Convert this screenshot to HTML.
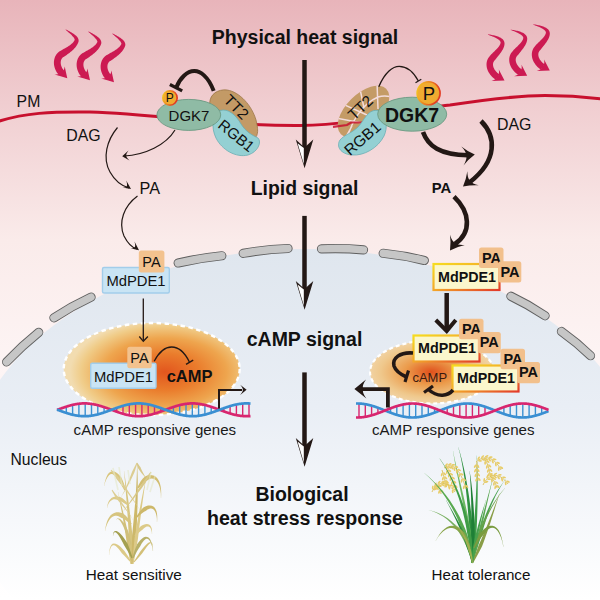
<!DOCTYPE html><html><head><meta charset="utf-8"><style>html,body{margin:0;padding:0;background:#fff;overflow:hidden}svg{display:block}text{font-family:"Liberation Sans",sans-serif}</style></head><body>
<svg width="600" height="600" viewBox="0 0 600 600">
<defs>
<linearGradient id="bg" x1="0" y1="0" x2="0" y2="1">
 <stop offset="0" stop-color="#e8b4ba"/>
 <stop offset="0.17" stop-color="#f0cdd0"/>
 <stop offset="0.4" stop-color="#faebea"/>
 <stop offset="0.6" stop-color="#fdf4f4"/>
 <stop offset="1" stop-color="#ffffff"/>
</linearGradient>
<linearGradient id="nuc" gradientUnits="userSpaceOnUse" x1="0" y1="248" x2="0" y2="600">
 <stop offset="0" stop-color="#dfe6ee"/>
 <stop offset="0.45" stop-color="#e9eef5"/>
 <stop offset="1" stop-color="#ffffff"/>
</linearGradient>
<radialGradient id="glowL" gradientUnits="userSpaceOnUse" cx="165" cy="372" r="95" gradientTransform="translate(165 372) scale(1 0.55) translate(-165 -372)">
 <stop offset="0" stop-color="#e2561e"/>
 <stop offset="0.35" stop-color="#ea7c2c"/>
 <stop offset="0.65" stop-color="#eea54e"/>
 <stop offset="0.88" stop-color="#f0cc88"/>
 <stop offset="1" stop-color="#f2dcb0"/>
</radialGradient>
<radialGradient id="glowR" gradientUnits="userSpaceOnUse" cx="431" cy="372" r="72" gradientTransform="translate(431 372) scale(1 0.5) translate(-431 -372)">
 <stop offset="0" stop-color="#e0501c"/>
 <stop offset="0.35" stop-color="#eb9a4a"/>
 <stop offset="0.7" stop-color="#efc88c"/>
 <stop offset="1" stop-color="#f3dcb8"/>
</radialGradient>
<linearGradient id="bx" x1="0" y1="0" x2="1" y2="1">
 <stop offset="0" stop-color="#f6dc20"/>
 <stop offset="0.5" stop-color="#f3a82a"/>
 <stop offset="1" stop-color="#e23a2a"/>
</linearGradient>
<radialGradient id="pfill" cx="0.4" cy="0.45" r="0.65">
 <stop offset="0" stop-color="#f1ae32"/>
 <stop offset="0.8" stop-color="#f0aa30"/>
 <stop offset="1" stop-color="#ea7a2a"/>
</radialGradient>
<linearGradient id="pstroke" x1="0" y1="0" x2="1" y2="0.3">
 <stop offset="0" stop-color="#f6d020"/>
 <stop offset="1" stop-color="#e23a22"/>
</linearGradient>
</defs>
<rect x="0" y="0" width="600" height="600" fill="url(#bg)"/>
<ellipse cx="305" cy="481" rx="339" ry="232" fill="url(#nuc)"/>
<path d="M6.61,361.95 Q21.63,346.05 38.69,332.35 M53.93,317.81 Q71.77,306.19 91.07,297.19 M114.2,286.38 Q135.46,276.6 157.8,269.62 M178.19,263.01 Q199.75,257.9 221.81,255.74 M243.22,253.27 Q265.47,249.38 288.03,248.48 M321.5,248.86 Q342.54,247.88 363.5,249.89 M383.18,253.28 Q404.01,255.4 424.32,260.47 M449.26,269.45 Q470.48,275.08 490.74,283.55 M510.91,296.23 Q528.74,304.7 545.09,315.77 M561.46,331.48 Q576.96,342.45 590.54,355.72" fill="none" stroke="#5f5f5f" stroke-width="9.2" stroke-linecap="round"/>
<path d="M6.61,361.95 Q21.63,346.05 38.69,332.35 M53.93,317.81 Q71.77,306.19 91.07,297.19 M114.2,286.38 Q135.46,276.6 157.8,269.62 M178.19,263.01 Q199.75,257.9 221.81,255.74 M243.22,253.27 Q265.47,249.38 288.03,248.48 M321.5,248.86 Q342.54,247.88 363.5,249.89 M383.18,253.28 Q404.01,255.4 424.32,260.47 M449.26,269.45 Q470.48,275.08 490.74,283.55 M510.91,296.23 Q528.74,304.7 545.09,315.77 M561.46,331.48 Q576.96,342.45 590.54,355.72" fill="none" stroke="#c6c6c6" stroke-width="7.4" stroke-linecap="round"/>
<path d="M-2,121.5 C25,113 50,111.5 90,112 C160,114 220,126 300,125.5 C360,125 400,111 450,105 C490,99 520,95.5 545,95.5 C570,95.5 590,97.5 602,99" fill="none" stroke="#c8102e" stroke-width="3"/>
<path d="M65.42,29.62 L66.05,30.23 L66.71,30.8 L67.36,31.36 L68.01,31.92 L68.65,32.46 L69.27,33.01 L69.88,33.54 L70.47,34.08 L71.03,34.6 L71.57,35.12 L72.07,35.63 L72.54,36.13 L72.97,36.63 L73.37,37.11 L73.71,37.57 L74.01,38.02 L74.25,38.44 L74.44,38.84 L74.58,39.21 L74.66,39.53 L74.68,39.8 L74.67,40.02 L74.62,40.19 L74.55,40.32 L74.49,40.34 L74.25,40.77 L73.94,41.25 L73.6,41.73 L73.23,42.2 L72.82,42.66 L72.37,43.13 L71.89,43.58 L71.37,44.04 L70.82,44.49 L70.24,44.94 L69.64,45.39 L69,45.83 L68.34,46.27 L67.66,46.71 L66.95,47.14 L66.23,47.57 L65.48,48.01 L64.72,48.44 L63.95,48.87 L63.17,49.3 L62.37,49.73 L61.57,50.16 L60.79,50.64 L60,51.12 L59.01,51.74 L58.1,52.52 L57.38,53.24 L56.73,54.02 L56.15,54.83 L55.63,55.69 L55.18,56.58 L54.8,57.49 L54.49,58.44 L54.24,59.4 L54.07,60.38 L53.96,61.37 L53.91,62.37 L53.93,63.38 L54.01,64.4 L54.16,65.41 L54.36,66.43 L54.63,67.44 L54.96,68.45 L55.35,69.45 L55.79,70.44 L56.3,71.42 L56.86,72.39 L57.49,73.34 L58.17,74.28 L58.85,75.13 L64.15,70.87 L63.57,70.15 L63.08,69.48 L62.65,68.82 L62.26,68.15 L61.92,67.49 L61.62,66.82 L61.37,66.17 L61.15,65.52 L60.99,64.88 L60.86,64.25 L60.77,63.64 L60.72,63.04 L60.71,62.46 L60.74,61.9 L60.8,61.36 L60.89,60.84 L61.02,60.34 L61.17,59.87 L61.36,59.41 L61.58,58.98 L61.82,58.58 L62.1,58.19 L62.41,57.82 L62.75,57.48 L62.99,57.26 L63.56,56.92 L64.34,56.44 L65.13,55.95 L65.9,55.42 L66.67,54.88 L67.43,54.33 L68.19,53.78 L68.94,53.22 L69.69,52.65 L70.42,52.07 L71.15,51.48 L71.85,50.88 L72.54,50.27 L73.21,49.65 L73.86,49.01 L74.48,48.36 L75.08,47.7 L75.64,47.02 L76.18,46.32 L76.67,45.6 L77.13,44.86 L77.54,44.11 L77.91,43.33 L78.23,42.54 L78.51,41.66 L78.62,40.84 L78.6,40.11 L78.47,39.42 L78.26,38.77 L77.97,38.16 L77.64,37.6 L77.25,37.06 L76.82,36.56 L76.36,36.08 L75.86,35.61 L75.34,35.16 L74.78,34.71 L74.19,34.27 L73.58,33.84 L72.94,33.42 L72.28,32.99 L71.59,32.57 L70.89,32.15 L70.17,31.74 L69.44,31.33 L68.69,30.92 L67.93,30.52 L67.17,30.12 L66.39,29.73 L65.58,29.38Z" fill="#cc1a52"/><path d="M67.3,78.3 Q60.39,76.25 54.5,74.5 Q60.51,74.77 60.7,72 Q64.08,71.97 64.7,66.5 Q65.9,71.93 67.3,78.3Z" fill="#cc1a52"/>
<path d="M88.12,31.62 L88.75,32.23 L89.41,32.8 L90.06,33.36 L90.71,33.92 L91.35,34.46 L91.97,35.01 L92.58,35.54 L93.17,36.08 L93.73,36.6 L94.27,37.12 L94.77,37.63 L95.24,38.13 L95.67,38.63 L96.07,39.11 L96.41,39.57 L96.71,40.02 L96.95,40.44 L97.14,40.84 L97.28,41.21 L97.36,41.53 L97.38,41.8 L97.37,42.02 L97.32,42.19 L97.25,42.32 L97.19,42.34 L96.95,42.77 L96.64,43.25 L96.3,43.73 L95.93,44.2 L95.52,44.66 L95.07,45.13 L94.59,45.58 L94.07,46.04 L93.52,46.49 L92.94,46.94 L92.34,47.39 L91.7,47.83 L91.04,48.27 L90.36,48.71 L89.65,49.14 L88.93,49.57 L88.18,50.01 L87.42,50.44 L86.65,50.87 L85.87,51.3 L85.07,51.73 L84.27,52.16 L83.49,52.64 L82.7,53.12 L81.71,53.74 L80.8,54.52 L80.08,55.24 L79.43,56.02 L78.85,56.83 L78.33,57.69 L77.88,58.58 L77.5,59.49 L77.19,60.44 L76.94,61.4 L76.77,62.38 L76.66,63.37 L76.61,64.37 L76.63,65.38 L76.71,66.4 L76.86,67.41 L77.06,68.43 L77.33,69.44 L77.66,70.45 L78.05,71.45 L78.49,72.44 L79,73.42 L79.56,74.39 L80.19,75.34 L80.87,76.28 L81.55,77.13 L86.85,72.87 L86.27,72.15 L85.78,71.48 L85.35,70.82 L84.96,70.15 L84.62,69.49 L84.32,68.82 L84.07,68.17 L83.85,67.52 L83.69,66.88 L83.56,66.25 L83.47,65.64 L83.42,65.04 L83.41,64.46 L83.44,63.9 L83.5,63.36 L83.59,62.84 L83.72,62.34 L83.87,61.87 L84.06,61.41 L84.28,60.98 L84.52,60.58 L84.8,60.19 L85.11,59.82 L85.45,59.48 L85.69,59.26 L86.26,58.92 L87.04,58.44 L87.83,57.95 L88.6,57.42 L89.37,56.88 L90.13,56.33 L90.89,55.78 L91.64,55.22 L92.39,54.65 L93.12,54.07 L93.85,53.48 L94.55,52.88 L95.24,52.27 L95.91,51.65 L96.56,51.01 L97.18,50.36 L97.78,49.7 L98.34,49.02 L98.88,48.32 L99.37,47.6 L99.83,46.86 L100.24,46.11 L100.61,45.33 L100.93,44.54 L101.21,43.66 L101.32,42.84 L101.3,42.11 L101.17,41.42 L100.96,40.77 L100.67,40.16 L100.34,39.6 L99.95,39.06 L99.52,38.56 L99.06,38.08 L98.56,37.61 L98.04,37.16 L97.48,36.71 L96.89,36.27 L96.28,35.84 L95.64,35.42 L94.98,34.99 L94.29,34.57 L93.59,34.15 L92.87,33.74 L92.14,33.33 L91.39,32.92 L90.63,32.52 L89.87,32.12 L89.09,31.73 L88.28,31.38Z" fill="#cc1a52"/><path d="M90,80.3 Q83.09,78.25 77.2,76.5 Q83.21,76.77 83.4,74 Q86.78,73.97 87.4,68.5 Q88.6,73.93 90,80.3Z" fill="#cc1a52"/>
<path d="M112.12,33.62 L112.75,34.23 L113.41,34.8 L114.06,35.36 L114.71,35.92 L115.35,36.46 L115.97,37.01 L116.58,37.54 L117.17,38.08 L117.73,38.6 L118.27,39.12 L118.77,39.63 L119.24,40.13 L119.67,40.63 L120.07,41.11 L120.41,41.57 L120.71,42.02 L120.95,42.44 L121.14,42.84 L121.28,43.21 L121.36,43.53 L121.38,43.8 L121.37,44.02 L121.32,44.19 L121.25,44.32 L121.19,44.34 L120.95,44.77 L120.64,45.25 L120.3,45.73 L119.93,46.2 L119.52,46.66 L119.07,47.13 L118.59,47.58 L118.07,48.04 L117.52,48.49 L116.94,48.94 L116.34,49.39 L115.7,49.83 L115.04,50.27 L114.36,50.71 L113.65,51.14 L112.93,51.57 L112.18,52.01 L111.42,52.44 L110.65,52.87 L109.87,53.3 L109.07,53.73 L108.27,54.16 L107.49,54.64 L106.7,55.12 L105.71,55.74 L104.8,56.52 L104.08,57.24 L103.43,58.02 L102.85,58.83 L102.33,59.69 L101.88,60.58 L101.5,61.49 L101.19,62.44 L100.94,63.4 L100.77,64.38 L100.66,65.37 L100.61,66.37 L100.63,67.38 L100.71,68.4 L100.86,69.41 L101.06,70.43 L101.33,71.44 L101.66,72.45 L102.05,73.45 L102.49,74.44 L103,75.42 L103.56,76.39 L104.19,77.34 L104.87,78.28 L105.55,79.13 L110.85,74.87 L110.27,74.15 L109.78,73.48 L109.35,72.82 L108.96,72.15 L108.62,71.49 L108.32,70.82 L108.07,70.17 L107.85,69.52 L107.69,68.88 L107.56,68.25 L107.47,67.64 L107.42,67.04 L107.41,66.46 L107.44,65.9 L107.5,65.36 L107.59,64.84 L107.72,64.34 L107.87,63.87 L108.06,63.41 L108.28,62.98 L108.52,62.58 L108.8,62.19 L109.11,61.82 L109.45,61.48 L109.69,61.26 L110.26,60.92 L111.04,60.44 L111.83,59.95 L112.6,59.42 L113.37,58.88 L114.13,58.33 L114.89,57.78 L115.64,57.22 L116.39,56.65 L117.12,56.07 L117.85,55.48 L118.55,54.88 L119.24,54.27 L119.91,53.65 L120.56,53.01 L121.18,52.36 L121.78,51.7 L122.34,51.02 L122.88,50.32 L123.37,49.6 L123.83,48.86 L124.24,48.11 L124.61,47.33 L124.93,46.54 L125.21,45.66 L125.32,44.84 L125.3,44.11 L125.17,43.42 L124.96,42.77 L124.67,42.16 L124.34,41.6 L123.95,41.06 L123.52,40.56 L123.06,40.08 L122.56,39.61 L122.04,39.16 L121.48,38.71 L120.89,38.27 L120.28,37.84 L119.64,37.42 L118.98,36.99 L118.29,36.57 L117.59,36.15 L116.87,35.74 L116.14,35.33 L115.39,34.92 L114.63,34.52 L113.87,34.12 L113.09,33.73 L112.28,33.38Z" fill="#cc1a52"/><path d="M114,82.3 Q107.09,80.25 101.2,78.5 Q107.21,78.77 107.4,76 Q110.78,75.97 111.4,70.5 Q112.6,75.93 114,82.3Z" fill="#cc1a52"/>
<path d="M487.96,34.65 L488.88,35.03 L489.79,35.38 L490.69,35.72 L491.57,36.06 L492.43,36.41 L493.27,36.76 L494.07,37.11 L494.85,37.47 L495.59,37.83 L496.29,38.2 L496.95,38.58 L497.57,38.95 L498.14,39.34 L498.65,39.72 L499.11,40.11 L499.51,40.49 L499.85,40.86 L500.12,41.23 L500.33,41.58 L500.48,41.91 L500.56,42.21 L500.6,42.49 L500.6,42.75 L500.56,43.01 L500.48,43.3 L500.36,43.72 L500.21,44.15 L500.01,44.59 L499.78,45.04 L499.51,45.5 L499.2,45.97 L498.86,46.45 L498.49,46.94 L498.08,47.44 L497.65,47.95 L497.18,48.47 L496.7,48.99 L496.19,49.52 L495.66,50.06 L495.12,50.6 L494.56,51.15 L493.99,51.7 L493.41,52.26 L492.83,52.82 L492.24,53.39 L491.65,53.97 L491.07,54.56 L490.52,55.19 L489.99,55.83 L489.49,56.44 L488.89,57.17 L488.29,58.06 L487.77,58.99 L487.34,59.96 L487,60.96 L486.76,61.97 L486.59,63 L486.52,64.03 L486.52,65.07 L486.6,66.11 L486.76,67.14 L486.99,68.16 L487.29,69.18 L487.66,70.18 L488.09,71.17 L488.59,72.13 L489.15,73.08 L489.77,74.01 L490.45,74.91 L491.18,75.79 L491.98,76.64 L492.83,77.46 L493.73,78.24 L494.69,78.99 L495.63,79.66 L499.37,74.34 L498.56,73.77 L497.86,73.23 L497.21,72.66 L496.61,72.08 L496.05,71.48 L495.54,70.87 L495.07,70.25 L494.65,69.63 L494.28,69 L493.96,68.37 L493.69,67.75 L493.46,67.13 L493.28,66.53 L493.15,65.93 L493.06,65.36 L493.02,64.8 L493.01,64.26 L493.05,63.74 L493.13,63.25 L493.24,62.77 L493.4,62.32 L493.59,61.89 L493.82,61.47 L494.09,61.06 L494.51,60.56 L494.99,59.97 L495.47,59.41 L495.96,58.84 L496.44,58.23 L496.92,57.61 L497.42,56.98 L497.92,56.34 L498.43,55.7 L498.94,55.05 L499.44,54.4 L499.94,53.74 L500.44,53.08 L500.92,52.41 L501.39,51.73 L501.83,51.05 L502.26,50.36 L502.67,49.66 L503.04,48.95 L503.38,48.23 L503.69,47.5 L503.96,46.76 L504.18,46.01 L504.35,45.25 L504.46,44.48 L504.52,43.7 L504.49,42.93 L504.36,42.16 L504.13,41.44 L503.82,40.77 L503.43,40.15 L502.98,39.59 L502.48,39.09 L501.93,38.63 L501.34,38.21 L500.72,37.82 L500.06,37.47 L499.37,37.14 L498.65,36.83 L497.9,36.54 L497.12,36.27 L496.31,36.02 L495.47,35.78 L494.61,35.55 L493.73,35.34 L492.82,35.13 L491.9,34.95 L490.96,34.77 L490,34.61 L489.03,34.46 L488.04,34.35Z" fill="#cc1a52"/><path d="M504.5,80.5 Q497.48,80.77 491.5,81 Q497.25,79.2 496.8,76.3 Q499.81,75.18 498.8,69.5 Q501.42,74.56 504.5,80.5Z" fill="#cc1a52"/>
<path d="M510.66,29.95 L511.58,30.33 L512.49,30.68 L513.39,31.02 L514.27,31.36 L515.13,31.71 L515.97,32.06 L516.77,32.41 L517.55,32.77 L518.29,33.13 L518.99,33.5 L519.65,33.88 L520.27,34.25 L520.84,34.64 L521.35,35.02 L521.81,35.41 L522.21,35.79 L522.55,36.16 L522.82,36.53 L523.03,36.88 L523.18,37.21 L523.26,37.51 L523.3,37.79 L523.3,38.05 L523.26,38.31 L523.18,38.6 L523.06,39.02 L522.91,39.45 L522.71,39.89 L522.48,40.34 L522.21,40.8 L521.9,41.27 L521.56,41.75 L521.19,42.24 L520.78,42.74 L520.35,43.25 L519.88,43.77 L519.4,44.29 L518.89,44.82 L518.36,45.36 L517.82,45.9 L517.26,46.45 L516.69,47 L516.11,47.56 L515.53,48.12 L514.94,48.69 L514.35,49.27 L513.77,49.86 L513.22,50.49 L512.69,51.13 L512.19,51.74 L511.59,52.47 L510.99,53.36 L510.47,54.29 L510.04,55.26 L509.7,56.26 L509.46,57.27 L509.29,58.3 L509.22,59.33 L509.22,60.37 L509.3,61.41 L509.46,62.44 L509.69,63.46 L509.99,64.48 L510.36,65.48 L510.79,66.47 L511.29,67.43 L511.85,68.38 L512.47,69.31 L513.15,70.21 L513.88,71.09 L514.68,71.94 L515.53,72.76 L516.43,73.54 L517.39,74.29 L518.33,74.96 L522.07,69.64 L521.26,69.07 L520.56,68.53 L519.91,67.96 L519.31,67.38 L518.75,66.78 L518.24,66.17 L517.77,65.55 L517.35,64.93 L516.98,64.3 L516.66,63.67 L516.39,63.05 L516.16,62.43 L515.98,61.83 L515.85,61.23 L515.76,60.66 L515.72,60.1 L515.71,59.56 L515.75,59.04 L515.83,58.55 L515.94,58.07 L516.1,57.62 L516.29,57.19 L516.52,56.77 L516.79,56.36 L517.21,55.86 L517.69,55.27 L518.17,54.71 L518.66,54.14 L519.14,53.53 L519.62,52.91 L520.12,52.28 L520.62,51.64 L521.13,51 L521.64,50.35 L522.14,49.7 L522.64,49.04 L523.14,48.38 L523.62,47.71 L524.09,47.03 L524.53,46.35 L524.96,45.66 L525.37,44.96 L525.74,44.25 L526.08,43.53 L526.39,42.8 L526.66,42.06 L526.88,41.31 L527.05,40.55 L527.16,39.78 L527.22,39 L527.19,38.23 L527.06,37.46 L526.83,36.74 L526.52,36.07 L526.13,35.45 L525.68,34.89 L525.18,34.39 L524.63,33.93 L524.04,33.51 L523.42,33.12 L522.76,32.77 L522.07,32.44 L521.35,32.13 L520.6,31.84 L519.82,31.57 L519.01,31.32 L518.17,31.08 L517.31,30.85 L516.43,30.64 L515.52,30.43 L514.6,30.25 L513.66,30.07 L512.7,29.91 L511.73,29.76 L510.74,29.65Z" fill="#cc1a52"/><path d="M527.2,75.8 Q520.18,76.07 514.2,76.3 Q519.96,74.5 519.5,71.6 Q522.51,70.48 521.5,64.8 Q524.12,69.86 527.2,75.8Z" fill="#cc1a52"/>
<path d="M533.26,24.65 L534.18,25.03 L535.09,25.38 L535.99,25.72 L536.87,26.06 L537.73,26.41 L538.57,26.76 L539.37,27.11 L540.15,27.47 L540.89,27.83 L541.59,28.2 L542.25,28.58 L542.87,28.95 L543.44,29.34 L543.95,29.72 L544.41,30.11 L544.81,30.49 L545.15,30.86 L545.42,31.23 L545.63,31.58 L545.78,31.91 L545.86,32.21 L545.9,32.49 L545.9,32.75 L545.86,33.01 L545.78,33.3 L545.66,33.72 L545.51,34.15 L545.31,34.59 L545.08,35.04 L544.81,35.5 L544.5,35.97 L544.16,36.45 L543.79,36.94 L543.38,37.44 L542.95,37.95 L542.48,38.47 L542,38.99 L541.49,39.52 L540.96,40.06 L540.42,40.6 L539.86,41.15 L539.29,41.7 L538.71,42.26 L538.13,42.82 L537.54,43.39 L536.95,43.97 L536.37,44.56 L535.82,45.19 L535.29,45.83 L534.79,46.44 L534.19,47.17 L533.59,48.06 L533.07,48.99 L532.64,49.96 L532.3,50.96 L532.06,51.97 L531.89,53 L531.82,54.03 L531.82,55.07 L531.9,56.11 L532.06,57.14 L532.29,58.16 L532.59,59.18 L532.96,60.18 L533.39,61.17 L533.89,62.13 L534.45,63.08 L535.07,64.01 L535.75,64.91 L536.48,65.79 L537.28,66.64 L538.13,67.46 L539.03,68.24 L539.99,68.99 L540.93,69.66 L544.67,64.34 L543.86,63.77 L543.16,63.23 L542.51,62.66 L541.91,62.08 L541.35,61.48 L540.84,60.87 L540.37,60.25 L539.95,59.63 L539.58,59 L539.26,58.37 L538.99,57.75 L538.76,57.13 L538.58,56.53 L538.45,55.93 L538.36,55.36 L538.32,54.8 L538.31,54.26 L538.35,53.74 L538.43,53.25 L538.54,52.77 L538.7,52.32 L538.89,51.89 L539.12,51.47 L539.39,51.06 L539.81,50.56 L540.29,49.97 L540.77,49.41 L541.26,48.84 L541.74,48.23 L542.22,47.61 L542.72,46.98 L543.22,46.34 L543.73,45.7 L544.24,45.05 L544.74,44.4 L545.24,43.74 L545.74,43.08 L546.22,42.41 L546.69,41.73 L547.13,41.05 L547.56,40.36 L547.97,39.66 L548.34,38.95 L548.68,38.23 L548.99,37.5 L549.26,36.76 L549.48,36.01 L549.65,35.25 L549.76,34.48 L549.82,33.7 L549.79,32.93 L549.66,32.16 L549.43,31.44 L549.12,30.77 L548.73,30.15 L548.28,29.59 L547.78,29.09 L547.23,28.63 L546.64,28.21 L546.02,27.82 L545.36,27.47 L544.67,27.14 L543.95,26.83 L543.2,26.54 L542.42,26.27 L541.61,26.02 L540.77,25.78 L539.91,25.55 L539.03,25.34 L538.12,25.13 L537.2,24.95 L536.26,24.77 L535.3,24.61 L534.33,24.46 L533.34,24.35Z" fill="#cc1a52"/><path d="M549.8,70.5 Q542.78,70.77 536.8,71 Q542.55,69.2 542.1,66.3 Q545.11,65.18 544.1,59.5 Q546.72,64.56 549.8,70.5Z" fill="#cc1a52"/>
<text x="305" y="43.5" font-size="19.5" font-weight="bold" text-anchor="middle" fill="#111" >Physical heat signal</text>
<text x="304.6" y="194.5" font-size="19.4" font-weight="bold" text-anchor="middle" fill="#111" >Lipid signal</text>
<text x="304.5" y="345.6" font-size="19.5" font-weight="bold" text-anchor="middle" fill="#111" >cAMP signal</text>
<text x="302" y="500.8" font-size="19.5" font-weight="bold" text-anchor="middle" fill="#111" >Biological</text>
<text x="305" y="525.3" font-size="19.6" font-weight="bold" text-anchor="middle" fill="#111" >heat stress response</text>
<line x1="304.5" y1="60" x2="304.5" y2="148.5" stroke="#231815" stroke-width="4.5"/>
<path d="M304.6,168.3 L295.8,139.60000000000002 L304.5,147.5 L313.3,139.60000000000002 Z" fill="#231815"/>
<path d="M297.6,143.20000000000002 L303.8,148.0 L303.8,164.0 Z" fill="#ffffff"/>
<line x1="304.5" y1="215.9" x2="304.5" y2="289.9" stroke="#231815" stroke-width="4.5"/>
<path d="M304.6,309.7 L295.8,281.0 L304.5,288.9 L313.3,281.0 Z" fill="#231815"/>
<path d="M297.6,284.6 L303.8,289.4 L303.8,305.4 Z" fill="#ffffff"/>
<line x1="304.5" y1="372.4" x2="304.5" y2="446.9" stroke="#231815" stroke-width="4.5"/>
<path d="M304.6,466.7 L295.8,438.0 L304.5,445.9 L313.3,438.0 Z" fill="#231815"/>
<path d="M297.6,441.6 L303.8,446.4 L303.8,462.4 Z" fill="#ffffff"/>
<path d="M209.7,103 C210,94 218,89 227,90 C240,92 252,106 256,120 C258,128 259,136 254,138.5 C248,140.5 243,133 239,127 C234,119 227,112 219,110.5 C213,109.5 209.5,107 209.7,103 Z" fill="#c39a66" stroke="#9c7648" stroke-width="0.8"/>
<path d="M220,110.5 C228,108 236,115 241,124 C246,132 252,135 258,138 C262,142 258,152 248,155 C236,158 222,150 216,138 C211,128 212,114 220,110.5 Z" fill="#94d0d3" stroke="#6aaeb4" stroke-width="0.8"/>
<ellipse cx="188.8" cy="114.9" rx="31.9" ry="15.5" fill="#8fbba5" stroke="#6b9a82" stroke-width="0.9"/>
<text x="189" y="121.1" font-size="15" font-weight="normal" text-anchor="middle" fill="#111" >DGK7</text>
<text x="0" y="0" font-size="15.5" font-weight="normal" text-anchor="middle" fill="#111" transform="translate(232.5 110.8) rotate(45)">TT2</text>
<text x="0" y="0" font-size="15.2" font-weight="normal" text-anchor="middle" fill="#111" transform="translate(233 139.8) rotate(39)">RGB1</text>
<circle cx="170" cy="97.9" r="7.2" fill="url(#pfill)" stroke="url(#pstroke)" stroke-width="1.6"/>
<text x="169.8" y="102.4" font-size="12" font-weight="normal" text-anchor="middle" fill="#111" >P</text>
<path d="M213.7,90.9 C208,76 200,71 194.4,71.1 C187,71 180,78 176.3,87.4" fill="none" stroke="#231815" stroke-width="4"/>
<line x1="169.9" y1="84.5" x2="182.2" y2="90.9" stroke="#231815" stroke-width="3.2"/>
<clipPath id="tt2c"><ellipse cx="363.5" cy="111.5" rx="32" ry="17.5" transform="rotate(-45 363.5 111.5)"/></clipPath>
<ellipse cx="363.5" cy="111.5" rx="32" ry="17.5" transform="rotate(-45 363.5 111.5)" fill="#c49b66"/>
<g clip-path="url(#tt2c)"><path d="M347,140 C351,122 362,104 378,97 C384,95 390,96 396,98 M330,117 L365,123.5 M336,101 L367,115 M359,84 L364,108 M377,82 L378,109 M352,126 L343,142" stroke="#f3dcdc" stroke-width="1.5" fill="none"/></g>
<path d="M333,126.8 L347,125 L351,122.5 L368,122.5" stroke="#c8102e" stroke-width="2.2" fill="none" opacity="0.85"/>
<path d="M379,110.7 C387,114 388,128 384,136 C378,148 364,156 352,155 C340,154 336,146 340,140 C344,135 352,133 358,127 C364,121 368,108 379,110.7 Z" fill="#94d0d3" stroke="#6aaeb4" stroke-width="0.8"/>
<ellipse cx="412.2" cy="114.2" rx="34.5" ry="17" fill="#8fbba5" stroke="#6b9a82" stroke-width="0.9"/>
<text x="412" y="121.5" font-size="19.5" font-weight="bold" text-anchor="middle" fill="#111" >DGK7</text>
<text x="0" y="0" font-size="15.5" font-weight="normal" text-anchor="middle" fill="#111" transform="translate(364 111.5) rotate(-43)">TT2</text>
<text x="0" y="0" font-size="15.5" font-weight="normal" text-anchor="middle" fill="#111" transform="translate(366 142.5) rotate(-41)">RGB1</text>
<circle cx="428.6" cy="93.2" r="11.5" fill="url(#pfill)" stroke="url(#pstroke)" stroke-width="1.6"/>
<text x="429" y="100" font-size="18.5" font-weight="normal" text-anchor="middle" fill="#111" >P</text>
<path d="M378.8,86.8 C385,72 393,66.4 399.2,66.4 C407,66.4 414,73 418.4,81" fill="none" stroke="#231815" stroke-width="1.3"/>
<line x1="415.5" y1="82.8" x2="421.3" y2="79.3" stroke="#231815" stroke-width="1.3"/>
<text x="16.6" y="106.6" font-size="15.8" font-weight="normal" text-anchor="start" fill="#111" >PM</text>
<text x="66.2" y="140.8" font-size="15.9" font-weight="normal" text-anchor="start" fill="#111" >DAG</text>
<text x="139.6" y="193.8" font-size="16.2" font-weight="normal" text-anchor="start" fill="#111" >PA</text>
<text x="497" y="129.5" font-size="15.9" font-weight="normal" text-anchor="start" fill="#111" >DAG</text>
<text x="431.8" y="193.4" font-size="14.8" font-weight="bold" text-anchor="start" fill="#111" >PA</text>
<path d="M117.5,127.5 C107,140 102,158 110,172 C115,181 122,186 129,188" fill="none" stroke="#231815" stroke-width="1.2"/>
<path d="M131,189 Q126.41,188.24 122.5,187.6 Q126.45,187.74 126.5,186.8 Q127.74,185.29 126.2,180.6 Q128.41,184.46 131,189Z" fill="#231815"/>
<path d="M175,130 C166,145 145,155 124,156" fill="none" stroke="#231815" stroke-width="1.2"/>
<path d="M122.2,156.2 Q125.6,153.12 128.5,150.5 Q125.84,154.06 126.3,155.8 Q126.19,157.56 129.5,160.5 Q126.14,158.52 122.2,156.2Z" fill="#231815"/>
<path d="M137.5,196 C124,206 118,222 124,236 C128,244 133,248 137,249" fill="none" stroke="#231815" stroke-width="1.2"/>
<path d="M139,250.2 Q134.41,249.12 130.5,248.2 Q134.45,248.59 134.5,247.6 Q135.85,246.25 134.5,241.5 Q136.57,245.5 139,250.2Z" fill="#231815"/>
<path d="M423,132 C428,146 440,155 468,155.2" fill="none" stroke="#231815" stroke-width="4.6"/>
<path d="M474.8,154.5 Q468.08,159.47 463.49,165.39 Q467.05,159.69 466.36,155.49 Q466.06,151.24 461.28,146.52 Q467.12,151.22 474.8,154.5Z" fill="#231815"/>
<path d="M481,121 C496,136 498,160 470,182" fill="none" stroke="#231815" stroke-width="4.6"/>
<path d="M463,186.5 Q466.34,178.73 467.36,171.3 Q467.28,177.83 469.97,180.8 Q472.34,184.02 478.76,185.23 Q471.27,184.77 463,186.5Z" fill="#231815"/>
<path d="M454,196.7 C470,212 472,232 455,244" fill="none" stroke="#231815" stroke-width="4.6"/>
<path d="M450,250.5 Q451.08,242.12 450.04,234.69 Q451.74,240.99 455.14,243.11 Q458.31,245.56 464.81,244.97 Q457.48,246.57 450,250.5Z" fill="#231815"/>
<rect x="102.5" y="267.5" width="66.8" height="25.5" rx="1.5" fill="#c9e4f4" stroke="#a2cdea" stroke-width="1.4"/>
<rect x="138.8" y="250.6" width="25.6" height="21.9" rx="2.5" fill="#f3c28e"/>
<text x="151.5" y="267.2" font-size="14.5" font-weight="normal" text-anchor="middle" fill="#111" >PA</text>
<text x="136" y="285.9" font-size="14.8" font-weight="normal" text-anchor="middle" fill="#111" >MdPDE1</text>
<ellipse cx="151.7" cy="369" rx="88" ry="46" fill="url(#glowL)" stroke="#ffffff" stroke-width="2.4" stroke-dasharray="4.5 3.5"/>
<line x1="143.3" y1="298.5" x2="143.3" y2="340" stroke="#231815" stroke-width="1.3"/>
<path d="M139.3,336.5 L143.3,341.3 L147.9,336.5" fill="none" stroke="#231815" stroke-width="1.3"/>
<rect x="90.7" y="363.3" width="65.3" height="25" rx="1.5" fill="#c9e4f4" stroke="#a2cdea" stroke-width="1.4"/>
<rect x="127.3" y="346.7" width="24.4" height="21.6" rx="2.5" fill="#f3c28e"/>
<text x="139.5" y="363" font-size="14.5" font-weight="normal" text-anchor="middle" fill="#111" >PA</text>
<text x="123.5" y="381.8" font-size="14.8" font-weight="normal" text-anchor="middle" fill="#111" >MdPDE1</text>
<text x="166.7" y="381.7" font-size="16.5" font-weight="bold" text-anchor="start" fill="#111" >cAMP</text>
<path d="M154.2,361.3 C159,352 165,347 171.7,347 C179,347 185,353 189.4,362" fill="none" stroke="#231815" stroke-width="1.3"/>
<line x1="186" y1="364.4" x2="193.2" y2="360.2" stroke="#231815" stroke-width="1.4"/>
<ellipse cx="432" cy="372" rx="62" ry="31.5" fill="url(#glowR)" stroke="#ffffff" stroke-width="2.2" stroke-dasharray="4 3"/>
<rect x="433.5" y="264" width="66" height="26" fill="#fbf7cc" stroke="url(#bx)" stroke-width="2.2"/>
<text x="467" y="281.7" font-size="14.3" font-weight="bold" text-anchor="middle" fill="#111" >MdPDE1</text>
<rect x="479" y="247.5" width="24.5" height="20.5" rx="2.5" fill="#f2c08c"/>
<text x="491.5" y="262.5" font-size="14.5" font-weight="bold" text-anchor="middle" fill="#111" >PA</text>
<rect x="498.3" y="261.3" width="23" height="21.2" rx="2.5" fill="#f2c08c"/>
<text x="510" y="276.5" font-size="14.5" font-weight="bold" text-anchor="middle" fill="#111" >PA</text>
<line x1="446.7" y1="293" x2="446.7" y2="330" stroke="#231815" stroke-width="4.5"/>
<path d="M435.8,320 L446.7,331 L455.8,320" fill="none" stroke="#231815" stroke-width="4"/>
<rect x="413.5" y="335.5" width="66" height="26" fill="#fbf7cc" stroke="url(#bx)" stroke-width="2.2"/>
<text x="447" y="352.5" font-size="14.3" font-weight="bold" text-anchor="middle" fill="#111" >MdPDE1</text>
<rect x="459" y="318.7" width="24.5" height="20.5" rx="2.5" fill="#f2c08c"/>
<text x="471.5" y="333.7" font-size="14.5" font-weight="bold" text-anchor="middle" fill="#111" >PA</text>
<rect x="477.8" y="332" width="23" height="21.2" rx="2.5" fill="#f2c08c"/>
<text x="489.3" y="347.2" font-size="14.5" font-weight="bold" text-anchor="middle" fill="#111" >PA</text>
<text x="412.4" y="381.6" font-size="13" font-weight="normal" text-anchor="start" fill="#3a1a10" >cAMP</text>
<rect x="452.5" y="365.5" width="66" height="26" fill="#fbf7cc" stroke="url(#bx)" stroke-width="2.2"/>
<text x="486" y="382.5" font-size="14.3" font-weight="bold" text-anchor="middle" fill="#111" >MdPDE1</text>
<rect x="500.5" y="348.7" width="24.5" height="20.5" rx="2.5" fill="#f2c08c"/>
<text x="513" y="363.7" font-size="14.5" font-weight="bold" text-anchor="middle" fill="#111" >PA</text>
<rect x="517" y="362" width="23" height="21.2" rx="2.5" fill="#f2c08c"/>
<text x="528.5" y="377.2" font-size="14.5" font-weight="bold" text-anchor="middle" fill="#111" >PA</text>
<path d="M413,353 C400,352 392,358 394,366 C396,372 402,375 406.5,377" fill="none" stroke="#231815" stroke-width="3.6"/>
<line x1="408.5" y1="370.5" x2="405" y2="382" stroke="#231815" stroke-width="3.2"/>
<path d="M453,390 C448,396 438,398 428.5,389.5" fill="none" stroke="#231815" stroke-width="3.6"/>
<line x1="424" y1="392.5" x2="433" y2="386" stroke="#231815" stroke-width="3.2"/>
<path d="M116.7,407.89 L116.7,411.71 M123,405.83 L123,413.77 M129.3,404.3 L129.3,415.3 M135.6,403.49 L135.6,416.11 M141.9,403.52 L141.9,416.08 M148.2,404.39 L148.2,415.21 M154.5,405.98 L154.5,413.62 M160.8,408.07 L160.8,411.53 M223.8,408.22 L223.8,411.38 M230.1,406.1 L230.1,413.5 M236.4,404.47 L236.4,415.13 M242.7,403.56 L242.7,416.04 M249,403.47 L249,416.13" stroke="#d8266f" stroke-width="1.4" fill="none"/>
<path d="M66.3,406.66 L66.3,412.94 M72.6,404.87 L72.6,414.73 M78.9,403.74 L78.9,415.86 M85.2,403.41 L85.2,416.19 M91.5,403.92 L91.5,415.68 M97.8,405.22 L97.8,414.38 M104.1,407.13 L104.1,412.47 M173.4,406.96 L173.4,412.64 M179.7,405.09 L179.7,414.51 M186,403.85 L186,415.75 M192.3,403.4 L192.3,416.2 M198.6,403.8 L198.6,415.8 M204.9,404.99 L204.9,414.61 M211.2,406.83 L211.2,412.77" stroke="#3a8fd2" stroke-width="1.4" fill="none"/>
<path d="M57,409.99 L57.5,409.8 L58,409.61 L58.5,409.43 L59,409.24 L59.5,409.06 L60,408.87 L60.5,408.69 L61,408.51 L61.5,408.32 L62,408.14 L62.5,407.96 L63,407.79 L63.5,407.61 L64,407.44 L64.5,407.27 L65,407.1 L65.5,406.93 L66,406.76 L66.5,406.6 L67,406.44 L67.5,406.28 L68,406.13 L68.5,405.98 L69,405.83 L69.5,405.69 L70,405.55 L70.5,405.41 L71,405.27 L71.5,405.14 L72,405.02 L72.5,404.9 L73,404.78 L73.5,404.67 L74,404.56 L74.5,404.45 L75,404.35 L75.5,404.26 L76,404.17 L76.5,404.08 L77,404 L77.5,403.92 L78,403.85 L78.5,403.79 L79,403.72 L79.5,403.67 L80,403.62 L80.5,403.57 L81,403.53 L81.5,403.5 L82,403.47 L82.5,403.44 L83,403.42 L83.5,403.41 L84,403.4 L84.5,403.4 L85,403.4 L85.5,403.41 L86,403.42 L86.5,403.44 L87,403.47 L87.5,403.5 L88,403.53 L88.5,403.57 L89,403.62 L89.5,403.67 L90,403.72 L90.5,403.79 L91,403.85 L91.5,403.92 L92,404 L92.5,404.08 L93,404.17 L93.5,404.26 L94,404.35 L94.5,404.45 L95,404.56 L95.5,404.67 L96,404.78 L96.5,404.9 L97,405.02 L97.5,405.14 L98,405.27 L98.5,405.41 L99,405.55 L99.5,405.69 L100,405.83 L100.5,405.98 L101,406.13 L101.5,406.28 L102,406.44 L102.5,406.6 L103,406.76 L103.5,406.93 L104,407.1 L104.5,407.27 L105,407.44 L105.5,407.61 L106,407.79 L106.5,407.96 L107,408.14 L107.5,408.32 L108,408.51 L108.5,408.69 L109,408.87 L109.5,409.06 L110,409.24 L110.5,409.43 L111,409.61 L111.5,409.8 L112,409.99 L112.5,410.17 L113,410.36 L113.5,410.54 L114,410.73 L114.5,410.91 L115,411.09 L115.5,411.28 L116,411.46 L116.5,411.64 L117,411.81 L117.5,411.99 L118,412.16 L118.5,412.33 L119,412.5 L119.5,412.67 L120,412.84 L120.5,413 L121,413.16 L121.5,413.32 L122,413.47 L122.5,413.62 L123,413.77 L123.5,413.91 L124,414.05 L124.5,414.19 L125,414.33 L125.5,414.46 L126,414.58 L126.5,414.7 L127,414.82 L127.5,414.93 L128,415.04 L128.5,415.15 L129,415.25 L129.5,415.34 L130,415.43 L130.5,415.52 L131,415.6 L131.5,415.68 L132,415.75 L132.5,415.81 L133,415.88 L133.5,415.93 L134,415.98 L134.5,416.03 L135,416.07 L135.5,416.1 L136,416.13 L136.5,416.16 L137,416.18 L137.5,416.19 L138,416.2 L138.5,416.2 L139,416.2 L139.5,416.19 L140,416.18 L140.5,416.16 L141,416.13 L141.5,416.1 L142,416.07 L142.5,416.03 L143,415.98 L143.5,415.93 L144,415.88 L144.5,415.81 L145,415.75 L145.5,415.68 L146,415.6 L146.5,415.52 L147,415.43 L147.5,415.34 L148,415.25 L148.5,415.15 L149,415.04 L149.5,414.93 L150,414.82 L150.5,414.7 L151,414.58 L151.5,414.46 L152,414.33 L152.5,414.19 L153,414.05 L153.5,413.91 L154,413.77 L154.5,413.62 L155,413.47 L155.5,413.32 L156,413.16 L156.5,413 L157,412.84 L157.5,412.67 L158,412.5 L158.5,412.33 L159,412.16 L159.5,411.99 L160,411.81 L160.5,411.64 L161,411.46 L161.5,411.28 L162,411.09 L162.5,410.91 L163,410.73 L163.5,410.54 L164,410.36 L164.5,410.17 L165,409.99 L165.5,409.8 L166,409.61 L166.5,409.43 L167,409.24 L167.5,409.06 L168,408.87 L168.5,408.69 L169,408.51 L169.5,408.32 L170,408.14 L170.5,407.96 L171,407.79 L171.5,407.61 L172,407.44 L172.5,407.27 L173,407.1 L173.5,406.93 L174,406.76 L174.5,406.6 L175,406.44 L175.5,406.28 L176,406.13 L176.5,405.98 L177,405.83 L177.5,405.69 L178,405.55 L178.5,405.41 L179,405.27 L179.5,405.14 L180,405.02 L180.5,404.9 L181,404.78 L181.5,404.67 L182,404.56 L182.5,404.45 L183,404.35 L183.5,404.26 L184,404.17 L184.5,404.08 L185,404 L185.5,403.92 L186,403.85 L186.5,403.79 L187,403.72 L187.5,403.67 L188,403.62 L188.5,403.57 L189,403.53 L189.5,403.5 L190,403.47 L190.5,403.44 L191,403.42 L191.5,403.41 L192,403.4 L192.5,403.4 L193,403.4 L193.5,403.41 L194,403.42 L194.5,403.44 L195,403.47 L195.5,403.5 L196,403.53 L196.5,403.57 L197,403.62 L197.5,403.67 L198,403.72 L198.5,403.79 L199,403.85 L199.5,403.92 L200,404 L200.5,404.08 L201,404.17 L201.5,404.26 L202,404.35 L202.5,404.45 L203,404.56 L203.5,404.67 L204,404.78 L204.5,404.9 L205,405.02 L205.5,405.14 L206,405.27 L206.5,405.41 L207,405.55 L207.5,405.69 L208,405.83 L208.5,405.98 L209,406.13 L209.5,406.28 L210,406.44 L210.5,406.6 L211,406.76 L211.5,406.93 L212,407.1 L212.5,407.27 L213,407.44 L213.5,407.61 L214,407.79 L214.5,407.96 L215,408.14 L215.5,408.32 L216,408.51 L216.5,408.69 L217,408.87 L217.5,409.06 L218,409.24 L218.5,409.43 L219,409.61 L219.5,409.8 L220,409.99 L220.5,410.17 L221,410.36 L221.5,410.54 L222,410.73 L222.5,410.91 L223,411.09 L223.5,411.28 L224,411.46 L224.5,411.64 L225,411.81 L225.5,411.99 L226,412.16 L226.5,412.33 L227,412.5 L227.5,412.67 L228,412.84 L228.5,413 L229,413.16 L229.5,413.32 L230,413.47 L230.5,413.62 L231,413.77 L231.5,413.91 L232,414.05 L232.5,414.19 L233,414.33 L233.5,414.46 L234,414.58 L234.5,414.7 L235,414.82 L235.5,414.93 L236,415.04 L236.5,415.15 L237,415.25 L237.5,415.34 L238,415.43 L238.5,415.52 L239,415.6 L239.5,415.68 L240,415.75 L240.5,415.81 L241,415.88 L241.5,415.93 L242,415.98 L242.5,416.03 L243,416.07 L243.5,416.1 L244,416.13 L244.5,416.16 L245,416.18 L245.5,416.19 L246,416.2 L246.5,416.2 L247,416.2 L247.5,416.19 L248,416.18 L248.5,416.16 L249,416.13 L249.5,416.1 L250,416.07 L250.5,416.03" stroke="#d8266f" stroke-width="2.7" fill="none"/>
<path d="M57,409.61 L57.5,409.8 L58,409.99 L58.5,410.17 L59,410.36 L59.5,410.54 L60,410.73 L60.5,410.91 L61,411.09 L61.5,411.28 L62,411.46 L62.5,411.64 L63,411.81 L63.5,411.99 L64,412.16 L64.5,412.33 L65,412.5 L65.5,412.67 L66,412.84 L66.5,413 L67,413.16 L67.5,413.32 L68,413.47 L68.5,413.62 L69,413.77 L69.5,413.91 L70,414.05 L70.5,414.19 L71,414.33 L71.5,414.46 L72,414.58 L72.5,414.7 L73,414.82 L73.5,414.93 L74,415.04 L74.5,415.15 L75,415.25 L75.5,415.34 L76,415.43 L76.5,415.52 L77,415.6 L77.5,415.68 L78,415.75 L78.5,415.81 L79,415.88 L79.5,415.93 L80,415.98 L80.5,416.03 L81,416.07 L81.5,416.1 L82,416.13 L82.5,416.16 L83,416.18 L83.5,416.19 L84,416.2 L84.5,416.2 L85,416.2 L85.5,416.19 L86,416.18 L86.5,416.16 L87,416.13 L87.5,416.1 L88,416.07 L88.5,416.03 L89,415.98 L89.5,415.93 L90,415.88 L90.5,415.81 L91,415.75 L91.5,415.68 L92,415.6 L92.5,415.52 L93,415.43 L93.5,415.34 L94,415.25 L94.5,415.15 L95,415.04 L95.5,414.93 L96,414.82 L96.5,414.7 L97,414.58 L97.5,414.46 L98,414.33 L98.5,414.19 L99,414.05 L99.5,413.91 L100,413.77 L100.5,413.62 L101,413.47 L101.5,413.32 L102,413.16 L102.5,413 L103,412.84 L103.5,412.67 L104,412.5 L104.5,412.33 L105,412.16 L105.5,411.99 L106,411.81 L106.5,411.64 L107,411.46 L107.5,411.28 L108,411.09 L108.5,410.91 L109,410.73 L109.5,410.54 L110,410.36 L110.5,410.17 L111,409.99 L111.5,409.8 L112,409.61 L112.5,409.43 L113,409.24 L113.5,409.06 L114,408.87 L114.5,408.69 L115,408.51 L115.5,408.32 L116,408.14 L116.5,407.96 L117,407.79 L117.5,407.61 L118,407.44 L118.5,407.27 L119,407.1 L119.5,406.93 L120,406.76 L120.5,406.6 L121,406.44 L121.5,406.28 L122,406.13 L122.5,405.98 L123,405.83 L123.5,405.69 L124,405.55 L124.5,405.41 L125,405.27 L125.5,405.14 L126,405.02 L126.5,404.9 L127,404.78 L127.5,404.67 L128,404.56 L128.5,404.45 L129,404.35 L129.5,404.26 L130,404.17 L130.5,404.08 L131,404 L131.5,403.92 L132,403.85 L132.5,403.79 L133,403.72 L133.5,403.67 L134,403.62 L134.5,403.57 L135,403.53 L135.5,403.5 L136,403.47 L136.5,403.44 L137,403.42 L137.5,403.41 L138,403.4 L138.5,403.4 L139,403.4 L139.5,403.41 L140,403.42 L140.5,403.44 L141,403.47 L141.5,403.5 L142,403.53 L142.5,403.57 L143,403.62 L143.5,403.67 L144,403.72 L144.5,403.79 L145,403.85 L145.5,403.92 L146,404 L146.5,404.08 L147,404.17 L147.5,404.26 L148,404.35 L148.5,404.45 L149,404.56 L149.5,404.67 L150,404.78 L150.5,404.9 L151,405.02 L151.5,405.14 L152,405.27 L152.5,405.41 L153,405.55 L153.5,405.69 L154,405.83 L154.5,405.98 L155,406.13 L155.5,406.28 L156,406.44 L156.5,406.6 L157,406.76 L157.5,406.93 L158,407.1 L158.5,407.27 L159,407.44 L159.5,407.61 L160,407.79 L160.5,407.96 L161,408.14 L161.5,408.32 L162,408.51 L162.5,408.69 L163,408.87 L163.5,409.06 L164,409.24 L164.5,409.43 L165,409.61 L165.5,409.8 L166,409.99 L166.5,410.17 L167,410.36 L167.5,410.54 L168,410.73 L168.5,410.91 L169,411.09 L169.5,411.28 L170,411.46 L170.5,411.64 L171,411.81 L171.5,411.99 L172,412.16 L172.5,412.33 L173,412.5 L173.5,412.67 L174,412.84 L174.5,413 L175,413.16 L175.5,413.32 L176,413.47 L176.5,413.62 L177,413.77 L177.5,413.91 L178,414.05 L178.5,414.19 L179,414.33 L179.5,414.46 L180,414.58 L180.5,414.7 L181,414.82 L181.5,414.93 L182,415.04 L182.5,415.15 L183,415.25 L183.5,415.34 L184,415.43 L184.5,415.52 L185,415.6 L185.5,415.68 L186,415.75 L186.5,415.81 L187,415.88 L187.5,415.93 L188,415.98 L188.5,416.03 L189,416.07 L189.5,416.1 L190,416.13 L190.5,416.16 L191,416.18 L191.5,416.19 L192,416.2 L192.5,416.2 L193,416.2 L193.5,416.19 L194,416.18 L194.5,416.16 L195,416.13 L195.5,416.1 L196,416.07 L196.5,416.03 L197,415.98 L197.5,415.93 L198,415.88 L198.5,415.81 L199,415.75 L199.5,415.68 L200,415.6 L200.5,415.52 L201,415.43 L201.5,415.34 L202,415.25 L202.5,415.15 L203,415.04 L203.5,414.93 L204,414.82 L204.5,414.7 L205,414.58 L205.5,414.46 L206,414.33 L206.5,414.19 L207,414.05 L207.5,413.91 L208,413.77 L208.5,413.62 L209,413.47 L209.5,413.32 L210,413.16 L210.5,413 L211,412.84 L211.5,412.67 L212,412.5 L212.5,412.33 L213,412.16 L213.5,411.99 L214,411.81 L214.5,411.64 L215,411.46 L215.5,411.28 L216,411.09 L216.5,410.91 L217,410.73 L217.5,410.54 L218,410.36 L218.5,410.17 L219,409.99 L219.5,409.8 L220,409.61 L220.5,409.43 L221,409.24 L221.5,409.06 L222,408.87 L222.5,408.69 L223,408.51 L223.5,408.32 L224,408.14 L224.5,407.96 L225,407.79 L225.5,407.61 L226,407.44 L226.5,407.27 L227,407.1 L227.5,406.93 L228,406.76 L228.5,406.6 L229,406.44 L229.5,406.28 L230,406.13 L230.5,405.98 L231,405.83 L231.5,405.69 L232,405.55 L232.5,405.41 L233,405.27 L233.5,405.14 L234,405.02 L234.5,404.9 L235,404.78 L235.5,404.67 L236,404.56 L236.5,404.45 L237,404.35 L237.5,404.26 L238,404.17 L238.5,404.08 L239,404 L239.5,403.92 L240,403.85 L240.5,403.79 L241,403.72 L241.5,403.67 L242,403.62 L242.5,403.57 L243,403.53 L243.5,403.5 L244,403.47 L244.5,403.44 L245,403.42 L245.5,403.41 L246,403.4 L246.5,403.4 L247,403.4 L247.5,403.41 L248,403.42 L248.5,403.44 L249,403.47 L249.5,403.5 L250,403.53 L250.5,403.57" stroke="#3a8fd2" stroke-width="2.7" fill="none"/>
<path d="M390.5,408.34 L390.5,412.66 M396.8,406.13 L396.8,414.87 M403.1,404.49 L403.1,416.51 M409.4,403.61 L409.4,417.39 M415.7,403.62 L415.7,417.38 M422,404.51 L422,416.49 M428.3,406.16 L428.3,414.84 M434.6,408.37 L434.6,412.63 M503.9,407.09 L503.9,413.91 M510.2,405.16 L510.2,415.84 M516.5,403.91 L516.5,417.09 M522.8,403.5 L522.8,417.5 M529.1,403.99 L529.1,417.01 M535.4,405.32 L535.4,415.68 M541.7,407.3 L541.7,413.7" stroke="#3a8fd2" stroke-width="1.4" fill="none"/>
<path d="M359,403.53 L359,417.47 M365.3,404.18 L365.3,416.82 M371.6,405.65 L371.6,415.35 M377.9,407.74 L377.9,413.26 M447.2,407.7 L447.2,413.3 M453.5,405.62 L453.5,415.38 M459.8,404.17 L459.8,416.83 M466.1,403.52 L466.1,417.48 M472.4,403.77 L472.4,417.23 M478.7,404.88 L478.7,416.12 M485,406.72 L485,414.28" stroke="#d8266f" stroke-width="1.4" fill="none"/>
<path d="M356,403.53 L356.5,403.51 L357,403.5 L357.5,403.5 L358,403.5 L358.5,403.51 L359,403.53 L359.5,403.55 L360,403.57 L360.5,403.6 L361,403.64 L361.5,403.68 L362,403.73 L362.5,403.78 L363,403.84 L363.5,403.91 L364,403.98 L364.5,404.05 L365,404.13 L365.5,404.22 L366,404.31 L366.5,404.4 L367,404.51 L367.5,404.61 L368,404.72 L368.5,404.84 L369,404.96 L369.5,405.08 L370,405.21 L370.5,405.34 L371,405.48 L371.5,405.62 L372,405.77 L372.5,405.92 L373,406.07 L373.5,406.23 L374,406.39 L374.5,406.55 L375,406.72 L375.5,406.89 L376,407.06 L376.5,407.23 L377,407.41 L377.5,407.59 L378,407.78 L378.5,407.96 L379,408.15 L379.5,408.34 L380,408.53 L380.5,408.72 L381,408.91 L381.5,409.11 L382,409.31 L382.5,409.5 L383,409.7 L383.5,409.9 L384,410.1 L384.5,410.3 L385,410.5 L385.5,410.7 L386,410.9 L386.5,411.1 L387,411.3 L387.5,411.5 L388,411.69 L388.5,411.89 L389,412.09 L389.5,412.28 L390,412.47 L390.5,412.66 L391,412.85 L391.5,413.04 L392,413.22 L392.5,413.41 L393,413.59 L393.5,413.77 L394,413.94 L394.5,414.11 L395,414.28 L395.5,414.45 L396,414.61 L396.5,414.77 L397,414.93 L397.5,415.08 L398,415.23 L398.5,415.38 L399,415.52 L399.5,415.66 L400,415.79 L400.5,415.92 L401,416.04 L401.5,416.16 L402,416.28 L402.5,416.39 L403,416.49 L403.5,416.6 L404,416.69 L404.5,416.78 L405,416.87 L405.5,416.95 L406,417.02 L406.5,417.09 L407,417.16 L407.5,417.22 L408,417.27 L408.5,417.32 L409,417.36 L409.5,417.4 L410,417.43 L410.5,417.45 L411,417.47 L411.5,417.49 L412,417.5 L412.5,417.5 L413,417.5 L413.5,417.49 L414,417.47 L414.5,417.45 L415,417.43 L415.5,417.4 L416,417.36 L416.5,417.32 L417,417.27 L417.5,417.22 L418,417.16 L418.5,417.09 L419,417.02 L419.5,416.95 L420,416.87 L420.5,416.78 L421,416.69 L421.5,416.6 L422,416.49 L422.5,416.39 L423,416.28 L423.5,416.16 L424,416.04 L424.5,415.92 L425,415.79 L425.5,415.66 L426,415.52 L426.5,415.38 L427,415.23 L427.5,415.08 L428,414.93 L428.5,414.77 L429,414.61 L429.5,414.45 L430,414.28 L430.5,414.11 L431,413.94 L431.5,413.77 L432,413.59 L432.5,413.41 L433,413.22 L433.5,413.04 L434,412.85 L434.5,412.66 L435,412.47 L435.5,412.28 L436,412.09 L436.5,411.89 L437,411.69 L437.5,411.5 L438,411.3 L438.5,411.1 L439,410.9 L439.5,410.7 L440,410.5 L440.5,410.3 L441,410.1 L441.5,409.9 L442,409.7 L442.5,409.5 L443,409.31 L443.5,409.11 L444,408.91 L444.5,408.72 L445,408.53 L445.5,408.34 L446,408.15 L446.5,407.96 L447,407.78 L447.5,407.59 L448,407.41 L448.5,407.23 L449,407.06 L449.5,406.89 L450,406.72 L450.5,406.55 L451,406.39 L451.5,406.23 L452,406.07 L452.5,405.92 L453,405.77 L453.5,405.62 L454,405.48 L454.5,405.34 L455,405.21 L455.5,405.08 L456,404.96 L456.5,404.84 L457,404.72 L457.5,404.61 L458,404.51 L458.5,404.4 L459,404.31 L459.5,404.22 L460,404.13 L460.5,404.05 L461,403.98 L461.5,403.91 L462,403.84 L462.5,403.78 L463,403.73 L463.5,403.68 L464,403.64 L464.5,403.6 L465,403.57 L465.5,403.55 L466,403.53 L466.5,403.51 L467,403.5 L467.5,403.5 L468,403.5 L468.5,403.51 L469,403.53 L469.5,403.55 L470,403.57 L470.5,403.6 L471,403.64 L471.5,403.68 L472,403.73 L472.5,403.78 L473,403.84 L473.5,403.91 L474,403.98 L474.5,404.05 L475,404.13 L475.5,404.22 L476,404.31 L476.5,404.4 L477,404.51 L477.5,404.61 L478,404.72 L478.5,404.84 L479,404.96 L479.5,405.08 L480,405.21 L480.5,405.34 L481,405.48 L481.5,405.62 L482,405.77 L482.5,405.92 L483,406.07 L483.5,406.23 L484,406.39 L484.5,406.55 L485,406.72 L485.5,406.89 L486,407.06 L486.5,407.23 L487,407.41 L487.5,407.59 L488,407.78 L488.5,407.96 L489,408.15 L489.5,408.34 L490,408.53 L490.5,408.72 L491,408.91 L491.5,409.11 L492,409.31 L492.5,409.5 L493,409.7 L493.5,409.9 L494,410.1 L494.5,410.3 L495,410.5 L495.5,410.7 L496,410.9 L496.5,411.1 L497,411.3 L497.5,411.5 L498,411.69 L498.5,411.89 L499,412.09 L499.5,412.28 L500,412.47 L500.5,412.66 L501,412.85 L501.5,413.04 L502,413.22 L502.5,413.41 L503,413.59 L503.5,413.77 L504,413.94 L504.5,414.11 L505,414.28 L505.5,414.45 L506,414.61 L506.5,414.77 L507,414.93 L507.5,415.08 L508,415.23 L508.5,415.38 L509,415.52 L509.5,415.66 L510,415.79 L510.5,415.92 L511,416.04 L511.5,416.16 L512,416.28 L512.5,416.39 L513,416.49 L513.5,416.6 L514,416.69 L514.5,416.78 L515,416.87 L515.5,416.95 L516,417.02 L516.5,417.09 L517,417.16 L517.5,417.22 L518,417.27 L518.5,417.32 L519,417.36 L519.5,417.4 L520,417.43 L520.5,417.45 L521,417.47 L521.5,417.49 L522,417.5 L522.5,417.5 L523,417.5 L523.5,417.49 L524,417.47 L524.5,417.45 L525,417.43 L525.5,417.4 L526,417.36 L526.5,417.32 L527,417.27 L527.5,417.22 L528,417.16 L528.5,417.09 L529,417.02 L529.5,416.95 L530,416.87 L530.5,416.78 L531,416.69 L531.5,416.6 L532,416.49 L532.5,416.39 L533,416.28 L533.5,416.16 L534,416.04 L534.5,415.92 L535,415.79 L535.5,415.66 L536,415.52 L536.5,415.38 L537,415.23 L537.5,415.08 L538,414.93 L538.5,414.77 L539,414.61 L539.5,414.45 L540,414.28 L540.5,414.11 L541,413.94 L541.5,413.77 L542,413.59 L542.5,413.41 L543,413.22 L543.5,413.04 L544,412.85 L544.5,412.66 L545,412.47 L545.5,412.28 L546,412.09 L546.5,411.89 L547,411.69 L547.5,411.5 L548,411.3 L548.5,411.1" stroke="#3a8fd2" stroke-width="2.7" fill="none"/>
<path d="M356,417.47 L356.5,417.49 L357,417.5 L357.5,417.5 L358,417.5 L358.5,417.49 L359,417.47 L359.5,417.45 L360,417.43 L360.5,417.4 L361,417.36 L361.5,417.32 L362,417.27 L362.5,417.22 L363,417.16 L363.5,417.09 L364,417.02 L364.5,416.95 L365,416.87 L365.5,416.78 L366,416.69 L366.5,416.6 L367,416.49 L367.5,416.39 L368,416.28 L368.5,416.16 L369,416.04 L369.5,415.92 L370,415.79 L370.5,415.66 L371,415.52 L371.5,415.38 L372,415.23 L372.5,415.08 L373,414.93 L373.5,414.77 L374,414.61 L374.5,414.45 L375,414.28 L375.5,414.11 L376,413.94 L376.5,413.77 L377,413.59 L377.5,413.41 L378,413.22 L378.5,413.04 L379,412.85 L379.5,412.66 L380,412.47 L380.5,412.28 L381,412.09 L381.5,411.89 L382,411.69 L382.5,411.5 L383,411.3 L383.5,411.1 L384,410.9 L384.5,410.7 L385,410.5 L385.5,410.3 L386,410.1 L386.5,409.9 L387,409.7 L387.5,409.5 L388,409.31 L388.5,409.11 L389,408.91 L389.5,408.72 L390,408.53 L390.5,408.34 L391,408.15 L391.5,407.96 L392,407.78 L392.5,407.59 L393,407.41 L393.5,407.23 L394,407.06 L394.5,406.89 L395,406.72 L395.5,406.55 L396,406.39 L396.5,406.23 L397,406.07 L397.5,405.92 L398,405.77 L398.5,405.62 L399,405.48 L399.5,405.34 L400,405.21 L400.5,405.08 L401,404.96 L401.5,404.84 L402,404.72 L402.5,404.61 L403,404.51 L403.5,404.4 L404,404.31 L404.5,404.22 L405,404.13 L405.5,404.05 L406,403.98 L406.5,403.91 L407,403.84 L407.5,403.78 L408,403.73 L408.5,403.68 L409,403.64 L409.5,403.6 L410,403.57 L410.5,403.55 L411,403.53 L411.5,403.51 L412,403.5 L412.5,403.5 L413,403.5 L413.5,403.51 L414,403.53 L414.5,403.55 L415,403.57 L415.5,403.6 L416,403.64 L416.5,403.68 L417,403.73 L417.5,403.78 L418,403.84 L418.5,403.91 L419,403.98 L419.5,404.05 L420,404.13 L420.5,404.22 L421,404.31 L421.5,404.4 L422,404.51 L422.5,404.61 L423,404.72 L423.5,404.84 L424,404.96 L424.5,405.08 L425,405.21 L425.5,405.34 L426,405.48 L426.5,405.62 L427,405.77 L427.5,405.92 L428,406.07 L428.5,406.23 L429,406.39 L429.5,406.55 L430,406.72 L430.5,406.89 L431,407.06 L431.5,407.23 L432,407.41 L432.5,407.59 L433,407.78 L433.5,407.96 L434,408.15 L434.5,408.34 L435,408.53 L435.5,408.72 L436,408.91 L436.5,409.11 L437,409.31 L437.5,409.5 L438,409.7 L438.5,409.9 L439,410.1 L439.5,410.3 L440,410.5 L440.5,410.7 L441,410.9 L441.5,411.1 L442,411.3 L442.5,411.5 L443,411.69 L443.5,411.89 L444,412.09 L444.5,412.28 L445,412.47 L445.5,412.66 L446,412.85 L446.5,413.04 L447,413.22 L447.5,413.41 L448,413.59 L448.5,413.77 L449,413.94 L449.5,414.11 L450,414.28 L450.5,414.45 L451,414.61 L451.5,414.77 L452,414.93 L452.5,415.08 L453,415.23 L453.5,415.38 L454,415.52 L454.5,415.66 L455,415.79 L455.5,415.92 L456,416.04 L456.5,416.16 L457,416.28 L457.5,416.39 L458,416.49 L458.5,416.6 L459,416.69 L459.5,416.78 L460,416.87 L460.5,416.95 L461,417.02 L461.5,417.09 L462,417.16 L462.5,417.22 L463,417.27 L463.5,417.32 L464,417.36 L464.5,417.4 L465,417.43 L465.5,417.45 L466,417.47 L466.5,417.49 L467,417.5 L467.5,417.5 L468,417.5 L468.5,417.49 L469,417.47 L469.5,417.45 L470,417.43 L470.5,417.4 L471,417.36 L471.5,417.32 L472,417.27 L472.5,417.22 L473,417.16 L473.5,417.09 L474,417.02 L474.5,416.95 L475,416.87 L475.5,416.78 L476,416.69 L476.5,416.6 L477,416.49 L477.5,416.39 L478,416.28 L478.5,416.16 L479,416.04 L479.5,415.92 L480,415.79 L480.5,415.66 L481,415.52 L481.5,415.38 L482,415.23 L482.5,415.08 L483,414.93 L483.5,414.77 L484,414.61 L484.5,414.45 L485,414.28 L485.5,414.11 L486,413.94 L486.5,413.77 L487,413.59 L487.5,413.41 L488,413.22 L488.5,413.04 L489,412.85 L489.5,412.66 L490,412.47 L490.5,412.28 L491,412.09 L491.5,411.89 L492,411.69 L492.5,411.5 L493,411.3 L493.5,411.1 L494,410.9 L494.5,410.7 L495,410.5 L495.5,410.3 L496,410.1 L496.5,409.9 L497,409.7 L497.5,409.5 L498,409.31 L498.5,409.11 L499,408.91 L499.5,408.72 L500,408.53 L500.5,408.34 L501,408.15 L501.5,407.96 L502,407.78 L502.5,407.59 L503,407.41 L503.5,407.23 L504,407.06 L504.5,406.89 L505,406.72 L505.5,406.55 L506,406.39 L506.5,406.23 L507,406.07 L507.5,405.92 L508,405.77 L508.5,405.62 L509,405.48 L509.5,405.34 L510,405.21 L510.5,405.08 L511,404.96 L511.5,404.84 L512,404.72 L512.5,404.61 L513,404.51 L513.5,404.4 L514,404.31 L514.5,404.22 L515,404.13 L515.5,404.05 L516,403.98 L516.5,403.91 L517,403.84 L517.5,403.78 L518,403.73 L518.5,403.68 L519,403.64 L519.5,403.6 L520,403.57 L520.5,403.55 L521,403.53 L521.5,403.51 L522,403.5 L522.5,403.5 L523,403.5 L523.5,403.51 L524,403.53 L524.5,403.55 L525,403.57 L525.5,403.6 L526,403.64 L526.5,403.68 L527,403.73 L527.5,403.78 L528,403.84 L528.5,403.91 L529,403.98 L529.5,404.05 L530,404.13 L530.5,404.22 L531,404.31 L531.5,404.4 L532,404.51 L532.5,404.61 L533,404.72 L533.5,404.84 L534,404.96 L534.5,405.08 L535,405.21 L535.5,405.34 L536,405.48 L536.5,405.62 L537,405.77 L537.5,405.92 L538,406.07 L538.5,406.23 L539,406.39 L539.5,406.55 L540,406.72 L540.5,406.89 L541,407.06 L541.5,407.23 L542,407.41 L542.5,407.59 L543,407.78 L543.5,407.96 L544,408.15 L544.5,408.34 L545,408.53 L545.5,408.72 L546,408.91 L546.5,409.11 L547,409.31 L547.5,409.5 L548,409.7 L548.5,409.9" stroke="#d8266f" stroke-width="2.7" fill="none"/>
<path d="M219,408.4 L219,390 L242,390" fill="none" stroke="#231815" stroke-width="2"/>
<path d="M246.6,389.8 Q243.14,387.1 240.2,384.8 Q243.03,388.05 242.8,389.8 Q243.03,391.62 240.2,395 Q243.14,392.61 246.6,389.8Z" fill="#231815"/>
<path d="M387.9,407.5 L387.9,389.1 L362,389.1" fill="none" stroke="#231815" stroke-width="3.8"/>
<path d="M354.4,388.9 Q360.66,383.77 366,379.4 Q361.54,385.61 363.2,389 Q361.68,392.26 366.4,398.4 Q360.88,394.03 354.4,388.9Z" fill="#231815"/>
<text x="73.6" y="435.2" font-size="15.1" font-weight="normal" text-anchor="start" fill="#1a1a1a" >cAMP responsive genes</text>
<text x="372" y="435.2" font-size="15.1" font-weight="normal" text-anchor="start" fill="#1a1a1a" >cAMP responsive genes</text>
<text x="10.5" y="465.3" font-size="15.7" font-weight="normal" text-anchor="start" fill="#111" >Nucleus</text>
<text x="85.8" y="579.6" font-size="15.3" font-weight="normal" text-anchor="start" fill="#111" >Heat sensitive</text>
<text x="431.6" y="579.6" font-size="15.2" font-weight="normal" text-anchor="start" fill="#111" >Heat tolerance</text>
<path d="M132.66,563.98 L132.75,557.58 L132.77,551.16 L132.74,544.76 L132.65,538.37 L132.04,532.07 L131.4,525.83 L130.72,519.68 L130.01,513.63 L129.28,507.7 L128.53,501.91 L127.77,496.27 L127,490.8 L126.24,485.53 L125.48,480.45 L124.73,475.61 L124.07,470.99 L123.93,471.01 L124.42,475.65 L124.85,480.53 L125.29,485.64 L125.75,490.95 L126.2,496.44 L126.64,502.11 L127.07,507.92 L127.49,513.87 L127.88,519.93 L128.24,526.09 L128.57,532.33 L128.85,538.63 L129.56,544.94 L130.21,551.29 L130.81,557.65 L131.34,564.02Z" fill="#d6c47e"/>
<path d="M132.73,564.06 L133.63,556.82 L134.52,549.68 L135.41,542.64 L136.27,535.72 L136.6,528.87 L136.9,522.14 L137.17,515.54 L137.39,509.08 L137.57,502.76 L137.69,496.59 L137.76,490.56 L137.76,484.7 L137.69,479.01 L137.54,473.49 L137.32,468.15 L137.07,463 L136.93,463 L136.97,468.16 L136.85,473.49 L136.64,479 L136.37,484.67 L136.02,490.5 L135.6,496.49 L135.13,502.63 L134.61,508.92 L134.04,515.34 L133.43,521.9 L132.78,528.59 L132.1,535.41 L131.92,542.38 L131.71,549.46 L131.49,556.65 L131.27,563.94Z" fill="#cdb86a"/>
<path d="M133.59,564.07 L134.63,557.78 L135.69,551.59 L136.76,545.51 L137.85,539.55 L138.53,533.64 L139.23,527.86 L139.92,522.2 L140.63,516.67 L141.33,511.29 L142.03,506.05 L142.72,500.96 L143.41,496.03 L144.08,491.27 L144.74,486.67 L145.38,482.24 L146.07,478.01 L145.93,477.99 L145.1,482.19 L144.18,486.57 L143.24,491.12 L142.28,495.84 L141.32,500.73 L140.34,505.78 L139.36,510.98 L138.37,516.33 L137.39,521.82 L136.41,527.44 L135.43,533.2 L134.46,539.08 L133.92,545.13 L133.4,551.3 L132.89,557.57 L132.41,563.93Z" fill="#dcca88"/>
<path d="M131.53,563.94 L131.18,558.52 L130.76,553.18 L130.29,547.95 L129.77,542.81 L128.84,537.85 L127.87,533 L126.88,528.28 L125.87,523.68 L124.85,519.22 L123.82,514.89 L122.8,510.7 L121.79,506.66 L120.8,502.76 L119.83,499.02 L118.9,495.43 L118.07,491.98 L117.93,492.02 L118.65,495.48 L119.34,499.13 L120.06,502.93 L120.8,506.87 L121.56,510.97 L122.34,515.2 L123.11,519.57 L123.88,524.07 L124.64,528.7 L125.38,533.44 L126.09,538.31 L126.76,543.28 L127.77,548.31 L128.73,553.45 L129.63,558.7 L130.47,564.06Z" fill="#d3c078"/>
<path d="M136.57,463.19 L136.94,464.56 L137.31,465.88 L137.69,467.14 L138.07,468.35 L138.75,469.37 L139.42,470.32 L140.08,471.23 L140.75,472.1 L141.41,472.92 L142.07,473.71 L142.73,474.48 L143.39,475.21 L144.04,475.93 L144.7,476.63 L145.35,477.32 L145.94,478.04 L146.06,477.96 L145.53,477.18 L145.05,476.36 L144.58,475.53 L144.11,474.7 L143.64,473.84 L143.18,472.97 L142.71,472.07 L142.25,471.15 L141.79,470.2 L141.33,469.21 L140.88,468.18 L140.43,467.11 L139.68,466.14 L138.94,465.1 L138.18,464 L137.43,462.81Z" fill="#d8c88a"/>
<path d="M125.74,489.7 L124.74,486.28 L123.68,483.08 L122.56,480.13 L121.38,477.45 L119.68,475.38 L117.94,473.68 L116.16,472.4 L114.31,471.59 L112.43,471.35 L110.64,471.77 L109.1,472.8 L107.81,474.34 L106.69,476.38 L105.7,478.98 L104.8,482.17 L103.93,485.98 L104.07,486.02 L105.16,482.28 L106.4,479.26 L107.69,476.93 L109,475.29 L110.25,474.31 L111.35,473.94 L112.29,474 L113.19,474.41 L114.18,475.19 L115.25,476.37 L116.39,477.95 L117.56,479.93 L119.22,481.99 L120.91,484.43 L122.59,487.21 L124.26,490.3Z" fill="#d8c47a"/>
<path d="M138.68,488.42 L140.88,485.54 L143.07,483.28 L145.21,481.6 L147.21,480.5 L148.77,479.44 L150.26,478.8 L151.68,478.54 L153.09,478.67 L154.51,479.23 L155.94,480.29 L157.3,481.89 L158.52,484.05 L159.55,486.76 L160.33,489.99 L160.83,493.74 L160.93,498 L161.07,498 L161.21,493.73 L161.09,489.89 L160.66,486.49 L159.94,483.51 L158.95,480.95 L157.66,478.8 L156.07,477.07 L154.16,475.83 L151.98,475.14 L149.61,475.05 L147.16,475.58 L144.7,476.69 L142.64,478.77 L140.73,481.28 L138.95,484.22 L137.32,487.58Z" fill="#d2bd70"/>
<path d="M129.48,505.54 L127.64,503.21 L125.79,501.16 L123.96,499.39 L122.11,497.89 L120.06,497.11 L118.09,496.65 L116.22,496.53 L114.46,496.74 L112.86,497.28 L111.45,498.12 L110.24,499.22 L109.23,500.55 L108.41,502.1 L107.77,503.86 L107.3,505.83 L106.93,507.98 L107.07,508.02 L107.61,505.91 L108.36,504.09 L109.25,502.56 L110.24,501.32 L111.31,500.39 L112.43,499.74 L113.59,499.37 L114.79,499.26 L116.04,499.38 L117.37,499.74 L118.79,500.35 L120.3,501.23 L122.16,502.01 L124.16,503.14 L126.29,504.62 L128.52,506.46Z" fill="#dcca88"/>
<path d="M131.62,523.5 L129.64,520.46 L127.62,517.81 L125.56,515.56 L123.43,513.69 L120.99,512.75 L118.6,512.3 L116.32,512.36 L114.19,512.92 L112.29,513.94 L110.63,515.36 L109.2,517.14 L107.98,519.26 L106.96,521.7 L106.12,524.47 L105.47,527.57 L104.93,530.99 L105.07,531.01 L105.84,527.66 L106.85,524.7 L108.01,522.16 L109.3,520.02 L110.68,518.33 L112.13,517.07 L113.6,516.25 L115.06,515.83 L116.5,515.77 L117.98,516.05 L119.52,516.66 L121.17,517.65 L123.24,518.59 L125.5,520.04 L127.88,522 L130.38,524.5Z" fill="#d6c47e"/>
<path d="M137.58,517.45 L139.87,515.08 L142.06,513.16 L144.15,511.69 L146.06,510.66 L147.54,509.62 L148.88,508.93 L150.09,508.56 L151.18,508.48 L152.23,508.71 L153.27,509.29 L154.28,510.3 L155.19,511.77 L155.96,513.69 L156.53,516.04 L156.89,518.82 L156.93,522 L157.07,522 L157.24,518.81 L157.23,515.96 L156.98,513.45 L156.49,511.26 L155.76,509.39 L154.75,507.82 L153.44,506.59 L151.82,505.77 L149.97,505.42 L147.97,505.56 L145.89,506.16 L143.75,507.18 L141.89,509.01 L140.05,511.18 L138.23,513.7 L136.42,516.55Z" fill="#cdb86a"/>
<path d="M135.55,536.37 L137.46,534.11 L139.31,532.22 L141.07,530.68 L142.71,529.52 L143.94,528.34 L145.07,527.45 L146.08,526.86 L146.98,526.51 L147.78,526.4 L148.54,526.5 L149.31,526.89 L150.07,527.61 L150.76,528.69 L151.33,530.13 L151.75,531.91 L151.93,534 L152.07,534 L152.07,531.88 L151.95,530 L151.65,528.36 L151.15,526.95 L150.43,525.77 L149.45,524.83 L148.21,524.22 L146.77,523.99 L145.22,524.14 L143.6,524.65 L141.92,525.49 L140.19,526.67 L138.76,528.49 L137.32,530.59 L135.88,532.97 L134.45,535.63Z" fill="#dcca88"/>
<path d="M132.61,557.75 L131.37,553.94 L130.09,550.29 L128.79,546.81 L127.48,543.55 L125.76,540.75 L124.08,538.24 L122.44,536.05 L120.86,534.2 L119.35,532.73 L117.91,531.66 L116.54,531.02 L115.23,530.93 L114.15,531.48 L113.49,532.53 L113.14,534.01 L112.93,535.99 L113.07,536.01 L113.44,534.09 L114.06,532.83 L114.72,532.24 L115.3,532.19 L115.94,532.49 L116.77,533.17 L117.77,534.28 L118.89,535.8 L120.11,537.69 L121.39,539.93 L122.74,542.48 L124.12,545.32 L125.93,548.22 L127.76,551.35 L129.58,554.71 L131.39,558.25Z" fill="#a4a050"/>
<path d="M133.59,558.22 L135.21,554.71 L136.86,551.51 L138.54,548.64 L140.22,546.14 L141.5,543.82 L142.76,541.9 L143.97,540.43 L145.09,539.42 L146.09,538.87 L147,538.72 L148,539.01 L149.11,539.93 L150.23,541.58 L151.28,543.96 L152.21,547.1 L152.93,551.01 L153.07,550.99 L152.51,547.04 L151.85,543.79 L151.05,541.2 L150.08,539.22 L148.88,537.8 L147.39,536.95 L145.67,536.8 L143.91,537.33 L142.18,538.4 L140.47,539.96 L138.77,541.94 L137.1,544.33 L135.84,547.28 L134.63,550.52 L133.48,554.03 L132.41,557.78Z" fill="#b8b068"/>
<path d="M131.47,561.63 L129.65,558.85 L127.89,556.11 L126.18,553.47 L124.52,550.96 L122.6,548.91 L120.75,547.1 L118.97,545.59 L117.26,544.43 L115.6,543.68 L113.98,543.44 L112.49,543.85 L111.31,544.88 L110.45,546.46 L109.79,548.62 L109.32,551.44 L108.93,554.99 L109.07,555.01 L109.6,551.49 L110.34,548.78 L111.21,546.83 L112.16,545.65 L113.06,545.15 L113.9,545.15 L114.85,545.53 L115.99,546.32 L117.28,547.52 L118.71,549.09 L120.25,550.98 L121.88,553.13 L123.93,555.24 L126.07,557.53 L128.27,559.92 L130.53,562.37Z" fill="#dcca88"/>
<path d="M134.36,562.29 L136.4,560.11 L138.4,557.84 L140.36,555.56 L142.26,553.33 L143.81,551.03 L145.28,548.92 L146.64,547.05 L147.89,545.49 L148.99,544.31 L149.91,543.57 L150.59,543.27 L151.16,543.36 L151.8,544.07 L152.38,545.57 L152.79,547.87 L152.93,551 L153.07,551 L153.01,547.85 L152.81,545.48 L152.41,543.79 L151.72,542.67 L150.62,542.16 L149.34,542.37 L148.02,543.1 L146.61,544.26 L145.12,545.76 L143.53,547.55 L141.86,549.57 L140.12,551.76 L138.57,554.24 L136.97,556.76 L135.33,559.27 L133.64,561.71Z" fill="#d3c078"/>
<path d="M131.48,544.87 L130.74,541.17 L129.96,537.69 L129.14,534.45 L128.3,531.44 L127.11,528.82 L125.92,526.47 L124.73,524.4 L123.55,522.62 L122.4,521.13 L121.27,519.95 L120.17,519.09 L119.11,518.55 L118.11,518.38 L117.22,518.59 L116.53,519.15 L115.94,519.95 L116.06,520.05 L116.69,519.32 L117.38,519.04 L118.03,519.09 L118.7,519.41 L119.43,520.02 L120.22,520.92 L121.07,522.13 L121.95,523.63 L122.85,525.42 L123.78,527.5 L124.71,529.84 L125.64,532.46 L126.89,535.23 L128.12,538.26 L129.34,541.56 L130.52,545.13Z" fill="#cfc07c"/>
<path d="M110.65,470.31 L112.18,472.38 L113.73,474.55 L115.29,476.81 L116.87,479.17 L118.73,481.42 L120.6,483.75 L122.49,486.16 L124.4,488.64 L126.32,491.18 L128.26,493.77 L130.2,496.4 L132.15,499.08 L134.11,501.78 L136.07,504.51 L138.03,507.25 L139.94,510.04 L140.06,509.96 L138.22,507.13 L136.44,504.26 L134.66,501.41 L132.88,498.58 L131.11,495.78 L129.35,493.01 L127.59,490.29 L125.85,487.61 L124.11,484.99 L122.39,482.44 L120.67,479.95 L118.97,477.54 L117.03,475.42 L115.11,473.4 L113.22,471.49 L111.35,469.69Z" fill="#dccd92"/>
<path d="M150.61,471.75 L148.89,474.1 L147.11,476.47 L145.28,478.88 L143.4,481.32 L141.74,483.96 L140.04,486.63 L138.3,489.3 L136.53,491.98 L134.74,494.67 L132.92,497.35 L131.1,500.02 L129.27,502.67 L127.44,505.3 L125.61,507.91 L123.8,510.47 L121.94,512.95 L122.06,513.05 L123.97,510.61 L125.97,508.17 L127.97,505.7 L129.98,503.2 L131.99,500.68 L134,498.13 L135.99,495.58 L137.97,493.02 L139.93,490.45 L141.86,487.89 L143.75,485.34 L145.6,482.8 L147.14,480.11 L148.62,477.45 L150.04,474.82 L151.39,472.25Z" fill="#d8c888"/>
<path d="M136.6,462.83 L135.48,465.02 L134.35,467.22 L133.22,469.43 L132.09,471.64 L131.24,473.95 L130.38,476.25 L129.5,478.54 L128.62,480.79 L127.73,483.01 L126.82,485.19 L125.9,487.31 L124.96,489.39 L124.01,491.4 L123.03,493.34 L122.03,495.21 L120.94,496.96 L121.06,497.04 L122.2,495.32 L123.38,493.55 L124.55,491.7 L125.69,489.77 L126.82,487.77 L127.94,485.72 L129.04,483.61 L130.13,481.46 L131.2,479.28 L132.27,477.06 L133.33,474.83 L134.37,472.58 L135.14,470.22 L135.89,467.85 L136.65,465.5 L137.4,463.17Z" fill="#dccd92"/>
<path d="M111.66,490.21 L112.66,492.17 L113.7,494.1 L114.78,496 L115.91,497.89 L117.28,499.6 L118.68,501.3 L120.09,503 L121.52,504.71 L122.96,506.45 L124.4,508.21 L125.85,510.02 L127.3,511.87 L128.74,513.79 L130.17,515.78 L131.6,517.85 L132.94,520.04 L133.06,519.96 L131.76,517.75 L130.49,515.57 L129.21,513.47 L127.92,511.44 L126.62,509.46 L125.32,507.53 L124.02,505.64 L122.73,503.79 L121.45,501.96 L120.19,500.15 L118.96,498.35 L117.75,496.55 L116.35,494.91 L114.98,493.24 L113.64,491.54 L112.34,489.79Z" fill="#dccd92"/>
<path d="M113,468 L118,490 M119,467 L122,486 M151,472 L147,490 M155,476 L150,492 M128,470 L130,484" stroke="#e4e8c8" stroke-width="1.6" opacity="0.6" fill="none"/>
<path d="M473.11,562.99 L473.32,556.6 L473.44,549.85 L473.48,542.79 L473.41,535.48 L472.76,527.99 L472,520.37 L471.14,512.64 L470.18,504.88 L469.11,497.12 L467.92,489.41 L466.62,481.81 L465.2,474.37 L463.67,467.14 L462,460.16 L460.22,453.5 L458.37,447.18 L458.23,447.22 L459.89,453.59 L461.35,460.31 L462.67,467.34 L463.87,474.61 L464.95,482.08 L465.92,489.69 L466.76,497.41 L467.5,505.17 L468.12,512.93 L468.64,520.65 L469.05,528.26 L469.37,535.72 L470.09,542.95 L470.71,549.94 L471.24,556.65 L471.69,563.01Z" fill="#2f9140"/>
<path d="M472.97,562.96 L472.67,554.91 L472.17,546.91 L471.49,539.01 L470.66,531.2 L469.31,523.57 L467.85,516.07 L466.32,508.72 L464.73,501.53 L463.12,494.51 L461.49,487.67 L459.89,481.02 L458.33,474.57 L456.84,468.34 L455.44,462.32 L454.15,456.54 L453.07,450.99 L452.93,451.01 L453.88,456.59 L454.91,462.43 L456.05,468.5 L457.28,474.8 L458.57,481.31 L459.91,488.02 L461.27,494.91 L462.62,501.97 L463.94,509.19 L465.2,516.56 L466.38,524.06 L467.46,531.68 L468.8,539.36 L470,547.15 L471.01,555.04 L471.83,563.04Z" fill="#6cb862"/>
<path d="M472.96,563.05 L473.88,555.93 L474.76,548.77 L475.6,541.6 L476.39,534.43 L476.74,527.27 L477.04,520.14 L477.29,513.08 L477.48,506.11 L477.62,499.23 L477.69,492.48 L477.71,485.86 L477.66,479.4 L477.55,473.12 L477.37,467.03 L477.12,461.15 L476.87,455.5 L476.73,455.5 L476.85,461.15 L476.83,467.03 L476.74,473.12 L476.59,479.39 L476.36,485.84 L476.07,492.44 L475.73,499.17 L475.32,506.02 L474.86,512.96 L474.34,519.99 L473.78,527.08 L473.16,534.21 L472.89,541.39 L472.58,548.59 L472.23,555.78 L471.84,562.95Z" fill="#3c9c48"/>
<path d="M473.01,563.02 L473.56,555.11 L474.02,547.5 L474.41,540.18 L474.73,533.16 L474.55,526.42 L474.31,519.98 L474.02,513.82 L473.67,507.95 L473.27,502.37 L472.84,497.07 L472.36,492.04 L471.86,487.3 L471.32,482.82 L470.77,478.61 L470.19,474.68 L469.67,470.99 L469.53,471.01 L469.9,474.71 L470.18,478.67 L470.45,482.9 L470.69,487.39 L470.91,492.15 L471.09,497.17 L471.23,502.47 L471.33,508.05 L471.39,513.9 L471.39,520.03 L471.33,526.45 L471.22,533.16 L471.47,540.16 L471.65,547.46 L471.76,555.06 L471.79,562.98Z" fill="#1f7f36"/>
<path d="M472.9,563.13 L474.92,556.22 L476.91,549.6 L478.89,543.27 L480.87,537.21 L482.52,531.31 L484.19,525.65 L485.91,520.21 L487.69,514.98 L489.54,509.94 L491.47,505.09 L493.51,500.4 L495.66,495.87 L497.94,491.48 L500.36,487.21 L502.95,483.06 L505.76,479.04 L505.64,478.96 L502.74,482.92 L499.95,486.95 L497.3,491.11 L494.79,495.41 L492.4,499.86 L490.12,504.49 L487.93,509.28 L485.84,514.27 L483.81,519.47 L481.84,524.87 L479.91,530.51 L478.02,536.38 L476.49,542.6 L474.97,549.08 L473.45,555.83 L471.9,562.87Z" fill="#4aa250"/>
<path d="M472.86,563.11 L474.48,557.06 L476.07,551.18 L477.63,545.46 L479.16,539.87 L480.35,534.32 L481.53,528.88 L482.69,523.51 L483.85,518.21 L485.01,512.96 L486.16,507.73 L487.33,502.52 L488.5,497.3 L489.69,492.05 L490.9,486.77 L492.14,481.42 L493.47,476.02 L493.33,475.98 L491.92,481.37 L490.47,486.66 L489.04,491.89 L487.63,497.08 L486.23,502.25 L484.85,507.41 L483.47,512.58 L482.1,517.79 L480.72,523.04 L479.34,528.36 L477.94,533.76 L476.53,539.25 L475.43,544.94 L474.29,550.77 L473.13,556.75 L471.94,562.89Z" fill="#5aa852"/>
<path d="M444,468 C452,462 460,468 466,489" stroke="#dcc058" stroke-width="0.9" fill="none"/><ellipse cx="446.41" cy="464.94" rx="1.95" ry="0.89" transform="rotate(-48.69 446.41 464.94)" fill="#e8cc66"/><ellipse cx="447.37" cy="467.78" rx="1.95" ry="0.89" transform="rotate(11.31 447.37 467.78)" fill="#e8cc66"/><ellipse cx="449.82" cy="464.3" rx="1.95" ry="0.89" transform="rotate(-27.53 449.82 464.3)" fill="#e8cc66"/><ellipse cx="449.69" cy="467.29" rx="1.95" ry="0.89" transform="rotate(32.47 449.69 467.29)" fill="#e8cc66"/><ellipse cx="453.19" cy="464.97" rx="1.95" ry="0.89" transform="rotate(-5.85 453.19 464.97)" fill="#e8cc66"/><ellipse cx="451.97" cy="467.71" rx="1.95" ry="0.89" transform="rotate(54.15 451.97 467.71)" fill="#e8cc66"/><ellipse cx="456.34" cy="466.9" rx="1.95" ry="0.89" transform="rotate(11.61 456.34 466.9)" fill="#e8cc66"/><ellipse cx="454.35" cy="469.14" rx="1.95" ry="0.89" transform="rotate(71.61 454.35 469.14)" fill="#e8cc66"/><ellipse cx="459.23" cy="470" rx="1.95" ry="0.89" transform="rotate(24 459.23 470)" fill="#e8cc66"/><ellipse cx="456.81" cy="471.76" rx="1.95" ry="0.89" transform="rotate(84 456.81 471.76)" fill="#e8cc66"/><ellipse cx="461.93" cy="474.24" rx="1.95" ry="0.89" transform="rotate(32.62 461.93 474.24)" fill="#e8cc66"/><ellipse cx="459.26" cy="475.62" rx="1.95" ry="0.89" transform="rotate(92.62 459.26 475.62)" fill="#e8cc66"/><ellipse cx="464.44" cy="479.68" rx="1.95" ry="0.89" transform="rotate(38.78 464.44 479.68)" fill="#e8cc66"/><ellipse cx="461.64" cy="480.77" rx="1.95" ry="0.89" transform="rotate(98.78 461.64 480.77)" fill="#e8cc66"/><ellipse cx="466.78" cy="486.35" rx="1.95" ry="0.89" transform="rotate(43.37 466.78 486.35)" fill="#e8cc66"/><ellipse cx="463.9" cy="487.21" rx="1.95" ry="0.89" transform="rotate(103.37 463.9 487.21)" fill="#e8cc66"/>
<path d="M446,468 C450,474 453,480 455,488" stroke="#dcc058" stroke-width="0.9" fill="none"/><ellipse cx="449.45" cy="470.65" rx="1.95" ry="0.89" transform="rotate(29.43 449.45 470.65)" fill="#e8cc66"/><ellipse cx="446.87" cy="472.17" rx="1.95" ry="0.89" transform="rotate(89.43 446.87 472.17)" fill="#e8cc66"/><ellipse cx="451.44" cy="474.22" rx="1.95" ry="0.89" transform="rotate(32.99 451.44 474.22)" fill="#e8cc66"/><ellipse cx="448.76" cy="475.58" rx="1.95" ry="0.89" transform="rotate(92.99 448.76 475.58)" fill="#e8cc66"/><ellipse cx="453.21" cy="477.96" rx="1.95" ry="0.89" transform="rotate(36.97 453.21 477.96)" fill="#e8cc66"/><ellipse cx="450.45" cy="479.14" rx="1.95" ry="0.89" transform="rotate(96.97 450.45 479.14)" fill="#e8cc66"/><ellipse cx="454.77" cy="481.96" rx="1.95" ry="0.89" transform="rotate(41.1 454.77 481.96)" fill="#e8cc66"/><ellipse cx="451.93" cy="482.93" rx="1.95" ry="0.89" transform="rotate(101.1 451.93 482.93)" fill="#e8cc66"/><ellipse cx="456.1" cy="486.28" rx="1.95" ry="0.89" transform="rotate(45.11 456.1 486.28)" fill="#e8cc66"/><ellipse cx="453.2" cy="487.05" rx="1.95" ry="0.89" transform="rotate(105.11 453.2 487.05)" fill="#e8cc66"/>
<path d="M442,470 C444,476 445,482 447,486" stroke="#dcc058" stroke-width="0.9" fill="none"/><ellipse cx="444.7" cy="473.76" rx="1.95" ry="0.89" transform="rotate(44.52 444.7 473.76)" fill="#e8cc66"/><ellipse cx="441.81" cy="474.56" rx="1.95" ry="0.89" transform="rotate(104.52 441.81 474.56)" fill="#e8cc66"/><ellipse cx="445.79" cy="477.78" rx="1.95" ry="0.89" transform="rotate(44.84 445.79 477.78)" fill="#e8cc66"/><ellipse cx="442.9" cy="478.56" rx="1.95" ry="0.89" transform="rotate(104.84 442.9 478.56)" fill="#e8cc66"/><ellipse cx="446.83" cy="481.42" rx="1.95" ry="0.89" transform="rotate(42.3 446.83 481.42)" fill="#e8cc66"/><ellipse cx="443.98" cy="482.34" rx="1.95" ry="0.89" transform="rotate(102.3 443.98 482.34)" fill="#e8cc66"/><ellipse cx="447.96" cy="484.52" rx="1.95" ry="0.89" transform="rotate(35.76 447.96 484.52)" fill="#e8cc66"/><ellipse cx="445.23" cy="485.75" rx="1.95" ry="0.89" transform="rotate(95.76 445.23 485.75)" fill="#e8cc66"/>
<path d="M432,492 C436,482 446,479 455,492" stroke="#dcc058" stroke-width="0.9" fill="none"/><ellipse cx="432.76" cy="487.42" rx="1.95" ry="0.89" transform="rotate(-83.54 432.76 487.42)" fill="#e8cc66"/><ellipse cx="435.17" cy="489.2" rx="1.95" ry="0.89" transform="rotate(-23.54 435.17 489.2)" fill="#e8cc66"/><ellipse cx="435.59" cy="484.35" rx="1.95" ry="0.89" transform="rotate(-67.08 435.59 484.35)" fill="#e8cc66"/><ellipse cx="437.4" cy="486.74" rx="1.95" ry="0.89" transform="rotate(-7.08 437.4 486.74)" fill="#e8cc66"/><ellipse cx="439.05" cy="482.41" rx="1.95" ry="0.89" transform="rotate(-47.04 439.05 482.41)" fill="#e8cc66"/><ellipse cx="439.93" cy="485.28" rx="1.95" ry="0.89" transform="rotate(12.96 439.93 485.28)" fill="#e8cc66"/><ellipse cx="442.96" cy="481.85" rx="1.95" ry="0.89" transform="rotate(-25.09 442.96 481.85)" fill="#e8cc66"/><ellipse cx="442.7" cy="484.84" rx="1.95" ry="0.89" transform="rotate(34.91 442.7 484.84)" fill="#e8cc66"/><ellipse cx="447.05" cy="482.84" rx="1.95" ry="0.89" transform="rotate(-4.86 447.05 482.84)" fill="#e8cc66"/><ellipse cx="445.78" cy="485.55" rx="1.95" ry="0.89" transform="rotate(55.14 445.78 485.55)" fill="#e8cc66"/><ellipse cx="451.13" cy="485.4" rx="1.95" ry="0.89" transform="rotate(11.27 451.13 485.4)" fill="#e8cc66"/><ellipse cx="449.15" cy="487.65" rx="1.95" ry="0.89" transform="rotate(71.27 449.15 487.65)" fill="#e8cc66"/><ellipse cx="455.09" cy="489.58" rx="1.95" ry="0.89" transform="rotate(23.38 455.09 489.58)" fill="#e8cc66"/><ellipse cx="452.68" cy="491.37" rx="1.95" ry="0.89" transform="rotate(83.38 452.68 491.37)" fill="#e8cc66"/>
<path d="M433,490 C436,486 440,484 441,494" stroke="#dcc058" stroke-width="0.9" fill="none"/><ellipse cx="435.19" cy="485.87" rx="1.95" ry="0.89" transform="rotate(-57.97 435.19 485.87)" fill="#e8cc66"/><ellipse cx="436.59" cy="488.52" rx="1.95" ry="0.89" transform="rotate(2.03 436.59 488.52)" fill="#e8cc66"/><ellipse cx="439.65" cy="486.02" rx="1.95" ry="0.89" transform="rotate(10.95 439.65 486.02)" fill="#e8cc66"/><ellipse cx="437.68" cy="488.29" rx="1.95" ry="0.89" transform="rotate(70.95 437.68 488.29)" fill="#e8cc66"/><ellipse cx="442.13" cy="491.31" rx="1.95" ry="0.89" transform="rotate(50.14 442.13 491.31)" fill="#e8cc66"/><ellipse cx="439.18" cy="491.82" rx="1.95" ry="0.89" transform="rotate(110.14 439.18 491.82)" fill="#e8cc66"/>
<path d="M476,462 C484,455 494,456 501,470" stroke="#dcc058" stroke-width="0.9" fill="none"/><ellipse cx="478.69" cy="458.26" rx="1.95" ry="0.89" transform="rotate(-57.67 478.69 458.26)" fill="#e8cc66"/><ellipse cx="480.08" cy="460.91" rx="1.95" ry="0.89" transform="rotate(2.33 480.08 460.91)" fill="#e8cc66"/><ellipse cx="482.59" cy="456.69" rx="1.95" ry="0.89" transform="rotate(-42.63 482.59 456.69)" fill="#e8cc66"/><ellipse cx="483.25" cy="459.61" rx="1.95" ry="0.89" transform="rotate(17.37 483.25 459.61)" fill="#e8cc66"/><ellipse cx="486.65" cy="456.28" rx="1.95" ry="0.89" transform="rotate(-25.3 486.65 456.28)" fill="#e8cc66"/><ellipse cx="486.41" cy="459.27" rx="1.95" ry="0.89" transform="rotate(34.7 486.41 459.27)" fill="#e8cc66"/><ellipse cx="490.7" cy="457.14" rx="1.95" ry="0.89" transform="rotate(-7.49 490.7 457.14)" fill="#e8cc66"/><ellipse cx="489.56" cy="459.91" rx="1.95" ry="0.89" transform="rotate(52.51 489.56 459.91)" fill="#e8cc66"/><ellipse cx="494.58" cy="459.31" rx="1.95" ry="0.89" transform="rotate(8.53 494.58 459.31)" fill="#e8cc66"/><ellipse cx="492.71" cy="461.66" rx="1.95" ry="0.89" transform="rotate(68.53 492.71 461.66)" fill="#e8cc66"/><ellipse cx="498.18" cy="462.8" rx="1.95" ry="0.89" transform="rotate(21.59 498.18 462.8)" fill="#e8cc66"/><ellipse cx="495.83" cy="464.66" rx="1.95" ry="0.89" transform="rotate(81.59 495.83 464.66)" fill="#e8cc66"/><ellipse cx="501.44" cy="467.63" rx="1.95" ry="0.89" transform="rotate(31.77 501.44 467.63)" fill="#e8cc66"/><ellipse cx="498.8" cy="469.05" rx="1.95" ry="0.89" transform="rotate(91.77 498.8 469.05)" fill="#e8cc66"/>
<path d="M477,462 C476,468 477,474 478,481" stroke="#dcc058" stroke-width="0.9" fill="none"/><ellipse cx="478.1" cy="466.23" rx="1.95" ry="0.89" transform="rotate(61.25 478.1 466.23)" fill="#e8cc66"/><ellipse cx="475.1" cy="466.17" rx="1.95" ry="0.89" transform="rotate(121.25 475.1 466.17)" fill="#e8cc66"/><ellipse cx="478.2" cy="470.36" rx="1.95" ry="0.89" transform="rotate(55.78 478.2 470.36)" fill="#e8cc66"/><ellipse cx="475.21" cy="470.58" rx="1.95" ry="0.89" transform="rotate(115.78 475.21 470.58)" fill="#e8cc66"/><ellipse cx="478.64" cy="474.71" rx="1.95" ry="0.89" transform="rotate(52.69 478.64 474.71)" fill="#e8cc66"/><ellipse cx="475.66" cy="475.09" rx="1.95" ry="0.89" transform="rotate(112.69 475.66 475.09)" fill="#e8cc66"/><ellipse cx="479.28" cy="479.34" rx="1.95" ry="0.89" transform="rotate(51.8 479.28 479.34)" fill="#e8cc66"/><ellipse cx="476.31" cy="479.76" rx="1.95" ry="0.89" transform="rotate(111.8 476.31 479.76)" fill="#e8cc66"/>
<path d="M484,458 C488,464 490,470 490,476" stroke="#dcc058" stroke-width="0.9" fill="none"/><ellipse cx="487.81" cy="461.51" rx="1.95" ry="0.89" transform="rotate(33.36 487.81 461.51)" fill="#e8cc66"/><ellipse cx="485.13" cy="462.86" rx="1.95" ry="0.89" transform="rotate(93.36 485.13 462.86)" fill="#e8cc66"/><ellipse cx="489.7" cy="465.88" rx="1.95" ry="0.89" transform="rotate(40.88 489.7 465.88)" fill="#e8cc66"/><ellipse cx="486.87" cy="466.86" rx="1.95" ry="0.89" transform="rotate(100.88 486.87 466.86)" fill="#e8cc66"/><ellipse cx="490.92" cy="470.28" rx="1.95" ry="0.89" transform="rotate(49.16 490.92 470.28)" fill="#e8cc66"/><ellipse cx="487.98" cy="470.84" rx="1.95" ry="0.89" transform="rotate(109.16 487.98 470.84)" fill="#e8cc66"/><ellipse cx="491.47" cy="474.69" rx="1.95" ry="0.89" transform="rotate(57.91 491.47 474.69)" fill="#e8cc66"/><ellipse cx="488.47" cy="474.8" rx="1.95" ry="0.89" transform="rotate(117.91 488.47 474.8)" fill="#e8cc66"/>
<path d="M483,485 C488,474 499,471 508,484" stroke="#dcc058" stroke-width="0.9" fill="none"/><ellipse cx="484.2" cy="480.02" rx="1.95" ry="0.89" transform="rotate(-81.62 484.2 480.02)" fill="#e8cc66"/><ellipse cx="486.55" cy="481.88" rx="1.95" ry="0.89" transform="rotate(-21.62 486.55 481.88)" fill="#e8cc66"/><ellipse cx="487.41" cy="476.71" rx="1.95" ry="0.89" transform="rotate(-66.2 487.41 476.71)" fill="#e8cc66"/><ellipse cx="489.18" cy="479.14" rx="1.95" ry="0.89" transform="rotate(-6.2 489.18 479.14)" fill="#e8cc66"/><ellipse cx="491.2" cy="474.62" rx="1.95" ry="0.89" transform="rotate(-47.51 491.2 474.62)" fill="#e8cc66"/><ellipse cx="492.1" cy="477.48" rx="1.95" ry="0.89" transform="rotate(12.49 492.1 477.48)" fill="#e8cc66"/><ellipse cx="495.4" cy="473.94" rx="1.95" ry="0.89" transform="rotate(-26.63 495.4 473.94)" fill="#e8cc66"/><ellipse cx="495.22" cy="476.94" rx="1.95" ry="0.89" transform="rotate(33.37 495.22 476.94)" fill="#e8cc66"/><ellipse cx="499.75" cy="474.85" rx="1.95" ry="0.89" transform="rotate(-6.52 499.75 474.85)" fill="#e8cc66"/><ellipse cx="498.55" cy="477.6" rx="1.95" ry="0.89" transform="rotate(53.48 498.55 477.6)" fill="#e8cc66"/><ellipse cx="504.02" cy="477.39" rx="1.95" ry="0.89" transform="rotate(10.26 504.02 477.39)" fill="#e8cc66"/><ellipse cx="502.08" cy="479.68" rx="1.95" ry="0.89" transform="rotate(70.26 502.08 479.68)" fill="#e8cc66"/><ellipse cx="508.08" cy="481.58" rx="1.95" ry="0.89" transform="rotate(23.22 508.08 481.58)" fill="#e8cc66"/><ellipse cx="505.68" cy="483.38" rx="1.95" ry="0.89" transform="rotate(83.22 505.68 483.38)" fill="#e8cc66"/>
<path d="M490,476 C494,480 496,484 497,488" stroke="#dcc058" stroke-width="0.9" fill="none"/><ellipse cx="494.34" cy="478.77" rx="1.95" ry="0.89" transform="rotate(24.73 494.34 478.77)" fill="#e8cc66"/><ellipse cx="491.89" cy="480.5" rx="1.95" ry="0.89" transform="rotate(84.73 491.89 480.5)" fill="#e8cc66"/><ellipse cx="496.65" cy="482.63" rx="1.95" ry="0.89" transform="rotate(34.57 496.65 482.63)" fill="#e8cc66"/><ellipse cx="493.94" cy="483.92" rx="1.95" ry="0.89" transform="rotate(94.57 493.94 483.92)" fill="#e8cc66"/><ellipse cx="498.14" cy="486.49" rx="1.95" ry="0.89" transform="rotate(43.86 498.14 486.49)" fill="#e8cc66"/><ellipse cx="495.26" cy="487.33" rx="1.95" ry="0.89" transform="rotate(103.86 495.26 487.33)" fill="#e8cc66"/>
<path d="M473.05,562.88 L472.04,555.77 L470.79,548.82 L469.31,542.03 L467.59,535.41 L465.21,529.11 L462.59,523.01 L459.76,517.11 L456.7,511.41 L453.42,505.91 L449.91,500.61 L446.19,495.51 L442.25,490.61 L438.09,485.91 L433.71,481.41 L429.11,477.1 L424.35,472.94 L424.25,473.06 L428.9,477.33 L433.26,481.84 L437.38,486.53 L441.27,491.39 L444.92,496.43 L448.34,501.64 L451.52,507.03 L454.48,512.59 L457.2,518.33 L459.7,524.24 L461.96,530.33 L464,536.59 L466.26,542.9 L468.31,549.43 L470.14,556.16 L471.75,563.12Z" fill="#58aa50"/>
<path d="M473.01,562.96 L472.73,554.95 L472.23,547.11 L471.51,539.45 L470.58,531.95 L469.01,524.71 L467.24,517.68 L465.28,510.85 L463.13,504.22 L460.79,497.79 L458.27,491.57 L455.58,485.56 L452.72,479.75 L449.69,474.15 L446.51,468.75 L443.18,463.57 L439.76,458.56 L439.64,458.64 L442.93,463.73 L446.01,469.05 L448.92,474.56 L451.67,480.26 L454.24,486.15 L456.64,492.22 L458.86,498.48 L460.9,504.93 L462.75,511.57 L464.4,518.38 L465.86,525.38 L467.12,532.57 L468.61,539.87 L469.88,547.39 L470.94,555.11 L471.79,563.04Z" fill="#3f9c46"/>
<path d="M472.91,562.9 L472.16,557.68 L471.09,552.61 L469.72,547.71 L468.06,543 L465.8,538.67 L463.29,534.59 L460.55,530.77 L457.6,527.23 L454.46,523.98 L451.14,521.02 L447.66,518.37 L444.03,516.03 L440.28,514.02 L436.41,512.34 L432.44,510.99 L428.42,509.93 L428.38,510.07 L432.37,511.23 L436.22,512.79 L439.93,514.68 L443.51,516.87 L446.92,519.36 L450.17,522.14 L453.23,525.2 L456.1,528.52 L458.75,532.09 L461.19,535.9 L463.39,539.95 L465.35,544.22 L467.39,548.57 L469.17,553.17 L470.68,558.01 L471.89,563.1Z" fill="#78b060"/>
<path d="M472.95,563.27 L475.34,559.06 L477.66,554.79 L479.91,550.48 L482.09,546.15 L483.8,541.63 L485.46,537.11 L487.05,532.6 L488.58,528.11 L490.07,523.64 L491.51,519.19 L492.92,514.79 L494.29,510.43 L495.62,506.12 L496.93,501.88 L498.23,497.7 L499.57,493.62 L499.43,493.58 L497.95,497.61 L496.38,501.69 L494.79,505.84 L493.18,510.05 L491.54,514.3 L489.86,518.6 L488.15,522.94 L486.39,527.29 L484.59,531.66 L482.73,536.04 L480.83,540.42 L478.86,544.78 L477.22,549.3 L475.51,553.8 L473.72,558.28 L471.85,562.73Z" fill="#8a9e48"/>
<path d="M472.77,563.06 L473.74,557.82 L474.93,552.59 L476.34,547.36 L477.94,542.16 L479.48,536.93 L481.19,531.76 L483.06,526.66 L485.08,521.67 L487.24,516.8 L489.52,512.07 L491.91,507.51 L494.39,503.14 L496.95,498.98 L499.59,495.06 L502.27,491.39 L505.06,488.05 L504.94,487.95 L502.13,491.28 L499.29,494.85 L496.51,498.68 L493.78,502.76 L491.13,507.07 L488.56,511.57 L486.11,516.25 L483.77,521.08 L481.56,526.05 L479.5,531.14 L477.59,536.31 L475.87,541.56 L474.58,546.92 L473.51,552.28 L472.65,557.64 L472.03,562.94Z" fill="#6aa048"/>
<path d="M472.96,562.88 L472.32,558.56 L471.55,554.31 L470.66,550.14 L469.64,546.04 L468.14,542.12 L466.53,538.26 L464.83,534.46 L463.04,530.68 L461.15,526.93 L459.19,523.18 L457.16,519.42 L455.05,515.64 L452.87,511.82 L450.64,507.95 L448.34,504.02 L446.07,499.96 L445.93,500.04 L448.11,504.14 L450.16,508.21 L452.16,512.2 L454.09,516.14 L455.95,520.03 L457.74,523.9 L459.45,527.74 L461.06,531.57 L462.59,535.4 L464.02,539.25 L465.35,543.13 L466.57,547.06 L468.06,550.92 L469.44,554.87 L470.7,558.93 L471.84,563.12Z" fill="#2a8a3c"/>
<path d="M472.96,563.07 L473.74,558.83 L474.57,554.66 L475.45,550.57 L476.37,546.54 L476.96,542.49 L477.59,538.5 L478.26,534.54 L478.98,530.61 L479.74,526.72 L480.53,522.85 L481.36,519.01 L482.23,515.19 L483.13,511.38 L484.06,507.58 L485.02,503.79 L486.07,500.02 L485.93,499.98 L484.76,503.71 L483.54,507.43 L482.35,511.16 L481.19,514.91 L480.06,518.67 L478.96,522.46 L477.9,526.28 L476.87,530.14 L475.88,534.03 L474.94,537.97 L474.04,541.95 L473.18,545.99 L472.77,550.15 L472.4,554.36 L472.09,558.62 L471.84,562.93Z" fill="#47a04c"/>
<path d="M470.62,547.76 L469.33,543.51 L467.87,539.58 L466.27,536.02 L464.51,532.84 L462.23,530.36 L459.85,528.38 L457.36,526.92 L454.8,526.04 L452.21,525.77 L449.64,526.12 L447.14,527.08 L444.72,528.64 L442.37,530.79 L440.06,533.56 L437.81,536.95 L435.54,540.96 L435.66,541.04 L438.07,537.12 L440.56,533.95 L443.02,531.47 L445.44,529.67 L447.78,528.52 L450.01,527.97 L452.11,527.97 L454.1,528.46 L456.02,529.42 L457.89,530.85 L459.72,532.74 L461.48,535.1 L463.56,537.66 L465.59,540.72 L467.54,544.25 L469.38,548.24Z" fill="#88a448"/>
<path d="M474.56,548.26 L476.73,544.24 L478.95,540.62 L481.2,537.42 L483.45,534.71 L485.34,532.23 L487.2,530.27 L489,528.86 L490.72,528.01 L492.37,527.71 L494.02,527.99 L495.75,528.96 L497.5,530.76 L499.2,533.43 L500.79,537.01 L502.23,541.52 L503.43,547.02 L503.57,546.98 L502.51,541.45 L501.34,536.82 L499.99,533.05 L498.46,530.09 L496.72,527.88 L494.75,526.39 L492.53,525.67 L490.15,525.74 L487.75,526.55 L485.36,528 L482.99,530.03 L480.66,532.57 L478.73,535.83 L476.88,539.46 L475.11,543.45 L473.44,547.74Z" fill="#7a9c40"/>
<path d="M472.87,562.93 L472.57,559.54 L472.14,556.21 L471.6,552.95 L470.95,549.77 L469.88,546.79 L468.74,543.93 L467.52,541.2 L466.24,538.62 L464.91,536.18 L463.53,533.9 L462.13,531.78 L460.7,529.84 L459.27,528.08 L457.83,526.51 L456.4,525.15 L455.05,523.95 L454.95,524.05 L456.24,525.31 L457.49,526.81 L458.73,528.49 L459.97,530.35 L461.18,532.38 L462.36,534.57 L463.51,536.9 L464.61,539.38 L465.65,542 L466.63,544.73 L467.54,547.58 L468.36,550.54 L469.41,553.51 L470.36,556.59 L471.2,559.78 L471.93,563.07Z" fill="#a0b050"/>
</svg></body></html>
